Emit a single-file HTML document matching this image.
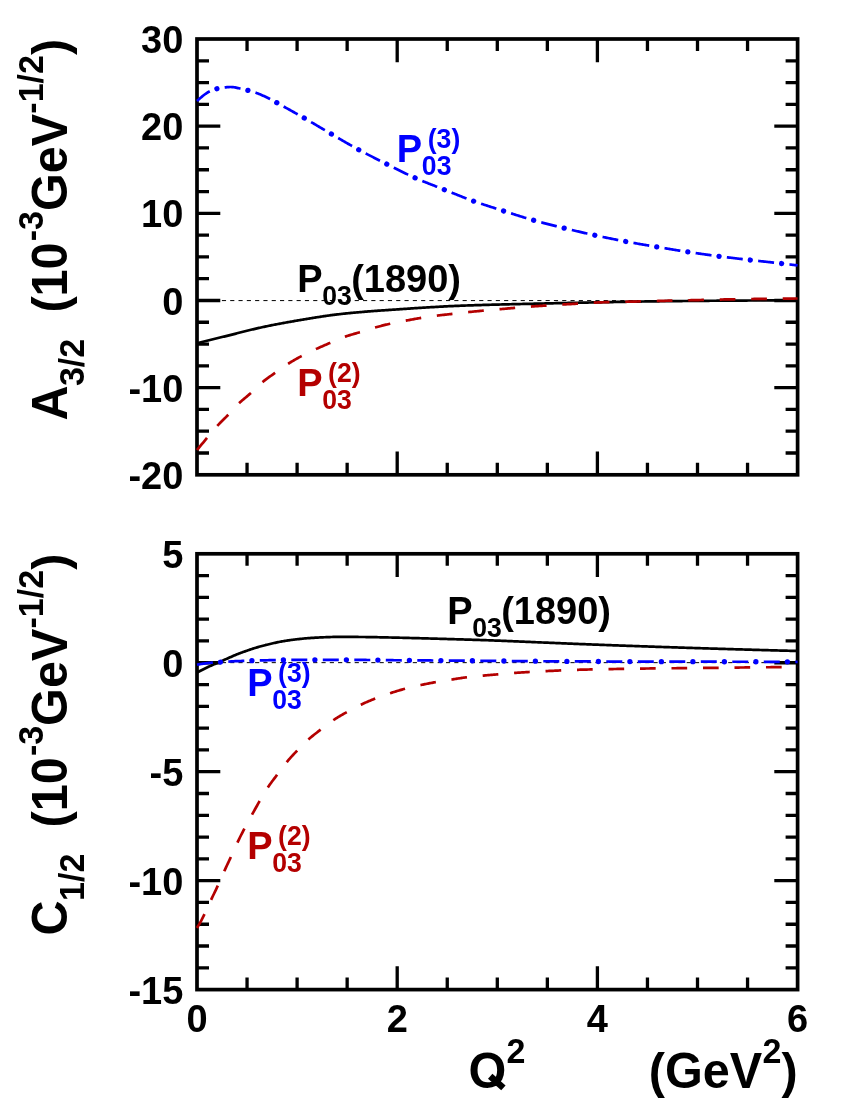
<!DOCTYPE html>
<html><head><meta charset="utf-8"><title>Helicity amplitudes</title>
<style>html,body{margin:0;padding:0;background:#fff;}svg{display:block;will-change:transform;}</style>
</head><body>
<svg width="850" height="1100" viewBox="0 0 850 1100" font-family="'Liberation Sans', sans-serif" font-weight="bold">
<rect width="850" height="1100" fill="#fff"/>
<g stroke="#000" stroke-width="3.3" fill="none">
<path d="M197.0 60.79h12.0 M797.6 60.79h-12.0"/>
<path d="M197.0 82.58h12.0 M797.6 82.58h-12.0"/>
<path d="M197.0 104.37h12.0 M797.6 104.37h-12.0"/>
<path d="M197.0 126.16h23.3 M797.6 126.16h-23.3"/>
<path d="M197.0 147.95h12.0 M797.6 147.95h-12.0"/>
<path d="M197.0 169.74h12.0 M797.6 169.74h-12.0"/>
<path d="M197.0 191.53h12.0 M797.6 191.53h-12.0"/>
<path d="M197.0 213.32h23.3 M797.6 213.32h-23.3"/>
<path d="M197.0 235.11h12.0 M797.6 235.11h-12.0"/>
<path d="M197.0 256.90h12.0 M797.6 256.90h-12.0"/>
<path d="M197.0 278.69h12.0 M797.6 278.69h-12.0"/>
<path d="M197.0 300.48h23.3 M797.6 300.48h-23.3"/>
<path d="M197.0 322.27h12.0 M797.6 322.27h-12.0"/>
<path d="M197.0 344.06h12.0 M797.6 344.06h-12.0"/>
<path d="M197.0 365.85h12.0 M797.6 365.85h-12.0"/>
<path d="M197.0 387.64h23.3 M797.6 387.64h-23.3"/>
<path d="M197.0 409.43h12.0 M797.6 409.43h-12.0"/>
<path d="M197.0 431.22h12.0 M797.6 431.22h-12.0"/>
<path d="M197.0 453.01h12.0 M797.6 453.01h-12.0"/>
<path d="M247.05 39.0v12.0 M247.05 474.8v-12.0"/>
<path d="M297.10 39.0v12.0 M297.10 474.8v-12.0"/>
<path d="M347.15 39.0v12.0 M347.15 474.8v-12.0"/>
<path d="M397.20 39.0v23.3 M397.20 474.8v-23.3"/>
<path d="M447.25 39.0v12.0 M447.25 474.8v-12.0"/>
<path d="M497.30 39.0v12.0 M497.30 474.8v-12.0"/>
<path d="M547.35 39.0v12.0 M547.35 474.8v-12.0"/>
<path d="M597.40 39.0v23.3 M597.40 474.8v-23.3"/>
<path d="M647.45 39.0v12.0 M647.45 474.8v-12.0"/>
<path d="M697.50 39.0v12.0 M697.50 474.8v-12.0"/>
<path d="M747.55 39.0v12.0 M747.55 474.8v-12.0"/>
<path d="M197.0 575.59h12.0 M797.6 575.59h-12.0"/>
<path d="M197.0 597.38h12.0 M797.6 597.38h-12.0"/>
<path d="M197.0 619.17h12.0 M797.6 619.17h-12.0"/>
<path d="M197.0 640.96h12.0 M797.6 640.96h-12.0"/>
<path d="M197.0 662.75h23.3 M797.6 662.75h-23.3"/>
<path d="M197.0 684.54h12.0 M797.6 684.54h-12.0"/>
<path d="M197.0 706.33h12.0 M797.6 706.33h-12.0"/>
<path d="M197.0 728.12h12.0 M797.6 728.12h-12.0"/>
<path d="M197.0 749.91h12.0 M797.6 749.91h-12.0"/>
<path d="M197.0 771.70h23.3 M797.6 771.70h-23.3"/>
<path d="M197.0 793.49h12.0 M797.6 793.49h-12.0"/>
<path d="M197.0 815.28h12.0 M797.6 815.28h-12.0"/>
<path d="M197.0 837.07h12.0 M797.6 837.07h-12.0"/>
<path d="M197.0 858.86h12.0 M797.6 858.86h-12.0"/>
<path d="M197.0 880.65h23.3 M797.6 880.65h-23.3"/>
<path d="M197.0 902.44h12.0 M797.6 902.44h-12.0"/>
<path d="M197.0 924.23h12.0 M797.6 924.23h-12.0"/>
<path d="M197.0 946.02h12.0 M797.6 946.02h-12.0"/>
<path d="M197.0 967.81h12.0 M797.6 967.81h-12.0"/>
<path d="M247.05 553.8v12.0 M247.05 989.6v-12.0"/>
<path d="M297.10 553.8v12.0 M297.10 989.6v-12.0"/>
<path d="M347.15 553.8v12.0 M347.15 989.6v-12.0"/>
<path d="M397.20 553.8v23.3 M397.20 989.6v-23.3"/>
<path d="M447.25 553.8v12.0 M447.25 989.6v-12.0"/>
<path d="M497.30 553.8v12.0 M497.30 989.6v-12.0"/>
<path d="M547.35 553.8v12.0 M547.35 989.6v-12.0"/>
<path d="M597.40 553.8v23.3 M597.40 989.6v-23.3"/>
<path d="M647.45 553.8v12.0 M647.45 989.6v-12.0"/>
<path d="M697.50 553.8v12.0 M697.50 989.6v-12.0"/>
<path d="M747.55 553.8v12.0 M747.55 989.6v-12.0"/>
</g>
<rect x="197.0" y="39.0" width="600.6" height="435.8" fill="none" stroke="#000" stroke-width="3.7"/>
<rect x="197.0" y="553.8" width="600.6" height="435.8" fill="none" stroke="#000" stroke-width="3.7"/>
<path d="M197.0 300.58H797.6" stroke="#000" stroke-width="1" stroke-dasharray="4.15 4.15" fill="none"/>
<path d="M197.0 662.65H797.6" stroke="#000" stroke-width="1" stroke-dasharray="4.15 4.15" fill="none"/>
<path d="M197.0 343.30 L198.0 343.05 L199.0 342.80 L200.0 342.55 L201.0 342.29 L202.0 342.04 L203.0 341.79 L204.0 341.54 L205.0 341.29 L206.0 341.04 L207.0 340.79 L208.0 340.54 L209.0 340.29 L210.0 340.04 L211.0 339.79 L212.0 339.54 L213.0 339.29 L214.0 339.04 L215.0 338.80 L216.0 338.55 L217.0 338.30 L218.0 338.05 L219.0 337.80 L220.0 337.55 L221.0 337.31 L222.0 337.06 L223.0 336.81 L224.0 336.57 L225.0 336.32 L226.0 336.07 L227.0 335.82 L228.0 335.57 L229.0 335.33 L230.0 335.08 L231.0 334.83 L232.0 334.58 L233.0 334.32 L234.0 334.07 L235.0 333.82 L236.0 333.57 L237.0 333.31 L238.0 333.06 L239.0 332.80 L240.0 332.55 L241.0 332.30 L242.0 332.04 L243.0 331.79 L244.0 331.54 L245.0 331.29 L246.0 331.04 L247.0 330.79 L248.0 330.54 L249.0 330.29 L250.0 330.05 L251.0 329.81 L252.0 329.56 L253.0 329.32 L254.0 329.08 L255.0 328.85 L256.0 328.61 L257.0 328.38 L258.0 328.15 L259.0 327.92 L260.0 327.70 L261.0 327.48 L262.0 327.26 L263.0 327.04 L264.0 326.83 L265.0 326.62 L266.0 326.41 L267.0 326.20 L268.0 326.00 L269.0 325.79 L270.0 325.59 L271.0 325.39 L272.0 325.19 L273.0 324.99 L274.0 324.79 L275.0 324.60 L276.0 324.41 L277.0 324.21 L278.0 324.02 L279.0 323.83 L280.0 323.64 L281.0 323.46 L282.0 323.27 L283.0 323.09 L284.0 322.90 L285.0 322.72 L286.0 322.54 L287.0 322.36 L288.0 322.18 L289.0 322.00 L290.0 321.82 L291.0 321.65 L292.0 321.47 L293.0 321.30 L294.0 321.12 L295.0 320.95 L296.0 320.78 L297.0 320.61 L298.0 320.44 L299.0 320.27 L300.0 320.10 L301.0 319.93 L302.0 319.77 L303.0 319.60 L304.0 319.43 L305.0 319.26 L306.0 319.10 L307.0 318.93 L308.0 318.76 L309.0 318.60 L310.0 318.43 L311.0 318.27 L312.0 318.10 L313.0 317.94 L314.0 317.77 L315.0 317.61 L316.0 317.45 L317.0 317.29 L318.0 317.13 L319.0 316.97 L320.0 316.81 L321.0 316.66 L322.0 316.51 L323.0 316.35 L324.0 316.20 L325.0 316.05 L326.0 315.91 L327.0 315.76 L328.0 315.62 L329.0 315.48 L330.0 315.34 L331.0 315.21 L332.0 315.07 L333.0 314.94 L334.0 314.82 L335.0 314.69 L336.0 314.57 L337.0 314.45 L338.0 314.33 L339.0 314.22 L340.0 314.10 L341.0 313.99 L342.0 313.88 L343.0 313.77 L344.0 313.67 L345.0 313.56 L346.0 313.46 L347.0 313.36 L348.0 313.26 L349.0 313.16 L350.0 313.06 L351.0 312.96 L352.0 312.87 L353.0 312.77 L354.0 312.68 L355.0 312.59 L356.0 312.50 L357.0 312.41 L358.0 312.32 L359.0 312.23 L360.0 312.14 L361.0 312.06 L362.0 311.97 L363.0 311.89 L364.0 311.80 L365.0 311.72 L366.0 311.64 L367.0 311.55 L368.0 311.47 L369.0 311.39 L370.0 311.31 L371.0 311.23 L372.0 311.16 L373.0 311.08 L374.0 311.00 L375.0 310.93 L376.0 310.85 L377.0 310.78 L378.0 310.71 L379.0 310.64 L380.0 310.57 L381.0 310.50 L382.0 310.43 L383.0 310.36 L384.0 310.30 L385.0 310.23 L386.0 310.16 L387.0 310.10 L388.0 310.03 L389.0 309.97 L390.0 309.90 L391.0 309.83 L392.0 309.76 L393.0 309.70 L394.0 309.63 L395.0 309.56 L396.0 309.49 L397.0 309.42 L398.0 309.35 L399.0 309.28 L400.0 309.21 L401.0 309.14 L402.0 309.08 L403.0 309.01 L404.0 308.94 L405.0 308.87 L406.0 308.80 L407.0 308.73 L408.0 308.66 L409.0 308.60 L410.0 308.53 L411.0 308.46 L412.0 308.40 L413.0 308.33 L414.0 308.26 L415.0 308.20 L416.0 308.13 L417.0 308.07 L418.0 308.01 L419.0 307.94 L420.0 307.88 L421.0 307.82 L422.0 307.76 L423.0 307.70 L424.0 307.63 L425.0 307.57 L426.0 307.51 L427.0 307.45 L428.0 307.39 L429.0 307.33 L430.0 307.27 L431.0 307.21 L432.0 307.15 L433.0 307.10 L434.0 307.04 L435.0 306.98 L436.0 306.92 L437.0 306.86 L438.0 306.80 L439.0 306.75 L440.0 306.69 L441.0 306.64 L442.0 306.58 L443.0 306.53 L444.0 306.47 L445.0 306.42 L446.0 306.37 L447.0 306.32 L448.0 306.27 L449.0 306.22 L450.0 306.17 L451.0 306.12 L452.0 306.07 L453.0 306.03 L454.0 305.98 L455.0 305.94 L456.0 305.90 L457.0 305.86 L458.0 305.82 L459.0 305.78 L460.0 305.74 L461.0 305.70 L462.0 305.66 L463.0 305.62 L464.0 305.59 L465.0 305.55 L466.0 305.51 L467.0 305.48 L468.0 305.44 L469.0 305.41 L470.0 305.38 L471.0 305.34 L472.0 305.31 L473.0 305.28 L474.0 305.24 L475.0 305.21 L476.0 305.18 L477.0 305.15 L478.0 305.12 L479.0 305.09 L480.0 305.06 L481.0 305.03 L482.0 305.00 L483.0 304.97 L484.0 304.94 L485.0 304.91 L486.0 304.88 L487.0 304.85 L488.0 304.82 L489.0 304.80 L490.0 304.77 L491.0 304.74 L492.0 304.71 L493.0 304.68 L494.0 304.66 L495.0 304.63 L496.0 304.61 L497.0 304.58 L498.0 304.55 L499.0 304.53 L500.0 304.50 L501.0 304.48 L502.0 304.45 L503.0 304.43 L504.0 304.40 L505.0 304.38 L506.0 304.35 L507.0 304.33 L508.0 304.31 L509.0 304.28 L510.0 304.26 L511.0 304.24 L512.0 304.21 L513.0 304.19 L514.0 304.17 L515.0 304.14 L516.0 304.12 L517.0 304.10 L518.0 304.07 L519.0 304.05 L520.0 304.03 L521.0 304.01 L522.0 303.98 L523.0 303.96 L524.0 303.94 L525.0 303.91 L526.0 303.89 L527.0 303.87 L528.0 303.85 L529.0 303.82 L530.0 303.80 L531.0 303.78 L532.0 303.75 L533.0 303.73 L534.0 303.71 L535.0 303.69 L536.0 303.66 L537.0 303.64 L538.0 303.62 L539.0 303.59 L540.0 303.57 L541.0 303.55 L542.0 303.53 L543.0 303.50 L544.0 303.48 L545.0 303.46 L546.0 303.44 L547.0 303.41 L548.0 303.39 L549.0 303.37 L550.0 303.35 L551.0 303.32 L552.0 303.30 L553.0 303.28 L554.0 303.26 L555.0 303.24 L556.0 303.21 L557.0 303.19 L558.0 303.17 L559.0 303.15 L560.0 303.13 L561.0 303.11 L562.0 303.08 L563.0 303.06 L564.0 303.04 L565.0 303.02 L566.0 303.00 L567.0 302.98 L568.0 302.95 L569.0 302.93 L570.0 302.91 L571.0 302.89 L572.0 302.87 L573.0 302.85 L574.0 302.83 L575.0 302.81 L576.0 302.79 L577.0 302.76 L578.0 302.74 L579.0 302.72 L580.0 302.70 L581.0 302.68 L582.0 302.66 L583.0 302.64 L584.0 302.62 L585.0 302.60 L586.0 302.58 L587.0 302.56 L588.0 302.54 L589.0 302.52 L590.0 302.50 L591.0 302.48 L592.0 302.46 L593.0 302.44 L594.0 302.42 L595.0 302.40 L596.0 302.38 L597.0 302.36 L598.0 302.34 L599.0 302.32 L600.0 302.30 L601.0 302.28 L602.0 302.26 L603.0 302.24 L604.0 302.22 L605.0 302.20 L606.0 302.18 L607.0 302.16 L608.0 302.14 L609.0 302.12 L610.0 302.10 L611.0 302.08 L612.0 302.06 L613.0 302.04 L614.0 302.02 L615.0 302.00 L616.0 301.98 L617.0 301.96 L618.0 301.94 L619.0 301.92 L620.0 301.90 L621.0 301.88 L622.0 301.86 L623.0 301.84 L624.0 301.82 L625.0 301.80 L626.0 301.79 L627.0 301.77 L628.0 301.75 L629.0 301.73 L630.0 301.71 L631.0 301.70 L632.0 301.68 L633.0 301.66 L634.0 301.64 L635.0 301.63 L636.0 301.61 L637.0 301.59 L638.0 301.58 L639.0 301.56 L640.0 301.55 L641.0 301.53 L642.0 301.51 L643.0 301.50 L644.0 301.48 L645.0 301.47 L646.0 301.46 L647.0 301.44 L648.0 301.43 L649.0 301.41 L650.0 301.40 L651.0 301.39 L652.0 301.37 L653.0 301.36 L654.0 301.35 L655.0 301.34 L656.0 301.32 L657.0 301.31 L658.0 301.30 L659.0 301.29 L660.0 301.27 L661.0 301.26 L662.0 301.25 L663.0 301.24 L664.0 301.23 L665.0 301.21 L666.0 301.20 L667.0 301.19 L668.0 301.18 L669.0 301.17 L670.0 301.16 L671.0 301.15 L672.0 301.13 L673.0 301.12 L674.0 301.11 L675.0 301.10 L676.0 301.09 L677.0 301.08 L678.0 301.07 L679.0 301.06 L680.0 301.05 L681.0 301.04 L682.0 301.03 L683.0 301.02 L684.0 301.01 L685.0 301.00 L686.0 300.99 L687.0 300.98 L688.0 300.97 L689.0 300.96 L690.0 300.95 L691.0 300.94 L692.0 300.93 L693.0 300.92 L694.0 300.91 L695.0 300.90 L696.0 300.89 L697.0 300.88 L698.0 300.87 L699.0 300.86 L700.0 300.86 L701.0 300.85 L702.0 300.84 L703.0 300.83 L704.0 300.82 L705.0 300.81 L706.0 300.81 L707.0 300.80 L708.0 300.79 L709.0 300.78 L710.0 300.77 L711.0 300.77 L712.0 300.76 L713.0 300.75 L714.0 300.74 L715.0 300.74 L716.0 300.73 L717.0 300.72 L718.0 300.71 L719.0 300.71 L720.0 300.70 L721.0 300.69 L722.0 300.69 L723.0 300.68 L724.0 300.67 L725.0 300.67 L726.0 300.66 L727.0 300.65 L728.0 300.65 L729.0 300.64 L730.0 300.63 L731.0 300.63 L732.0 300.62 L733.0 300.61 L734.0 300.61 L735.0 300.60 L736.0 300.59 L737.0 300.59 L738.0 300.58 L739.0 300.57 L740.0 300.57 L741.0 300.56 L742.0 300.56 L743.0 300.55 L744.0 300.54 L745.0 300.54 L746.0 300.53 L747.0 300.53 L748.0 300.52 L749.0 300.51 L750.0 300.51 L751.0 300.50 L752.0 300.50 L753.0 300.49 L754.0 300.49 L755.0 300.48 L756.0 300.47 L757.0 300.47 L758.0 300.46 L759.0 300.46 L760.0 300.45 L761.0 300.45 L762.0 300.44 L763.0 300.44 L764.0 300.43 L765.0 300.43 L766.0 300.42 L767.0 300.42 L768.0 300.41 L769.0 300.41 L770.0 300.40 L771.0 300.40 L772.0 300.39 L773.0 300.39 L774.0 300.38 L775.0 300.38 L776.0 300.38 L777.0 300.37 L778.0 300.37 L779.0 300.36 L780.0 300.36 L781.0 300.35 L782.0 300.35 L783.0 300.35 L784.0 300.34 L785.0 300.34 L786.0 300.34 L787.0 300.33 L788.0 300.33 L789.0 300.33 L790.0 300.32 L791.0 300.32 L792.0 300.32 L793.0 300.31 L794.0 300.31 L795.0 300.31 L796.0 300.31 L797.0 300.30 L797.6 300.30" fill="none" stroke="#000" stroke-width="2.7"/>
<path d="M197.0 450.00 L198.0 448.79 L199.0 447.59 L200.0 446.38 L201.0 445.17 L202.0 443.97 L203.0 442.77 L204.0 441.56 L205.0 440.36 L206.0 439.15 L207.0 437.94 L208.0 436.73 L209.0 435.52 L210.0 434.31 L211.0 433.10 L212.0 431.90 L213.0 430.72 L214.0 429.55 L215.0 428.40 L216.0 427.28 L217.0 426.18 L218.0 425.11 L219.0 424.07 L220.0 423.04 L221.0 422.04 L222.0 421.05 L223.0 420.06 L224.0 419.07 L225.0 418.08 L226.0 417.08 L227.0 416.06 L228.0 415.01 L229.0 413.95 L230.0 412.87 L231.0 411.77 L232.0 410.66 L233.0 409.55 L234.0 408.45 L235.0 407.36 L236.0 406.29 L237.0 405.25 L238.0 404.25 L239.0 403.28 L240.0 402.34 L241.0 401.44 L242.0 400.56 L243.0 399.70 L244.0 398.86 L245.0 398.03 L246.0 397.19 L247.0 396.36 L248.0 395.51 L249.0 394.64 L250.0 393.75 L251.0 392.85 L252.0 391.92 L253.0 390.97 L254.0 390.01 L255.0 389.03 L256.0 388.06 L257.0 387.08 L258.0 386.12 L259.0 385.18 L260.0 384.26 L261.0 383.37 L262.0 382.50 L263.0 381.67 L264.0 380.86 L265.0 380.08 L266.0 379.32 L267.0 378.58 L268.0 377.86 L269.0 377.14 L270.0 376.44 L271.0 375.73 L272.0 375.03 L273.0 374.33 L274.0 373.63 L275.0 372.92 L276.0 372.21 L277.0 371.50 L278.0 370.78 L279.0 370.06 L280.0 369.35 L281.0 368.64 L282.0 367.93 L283.0 367.23 L284.0 366.54 L285.0 365.86 L286.0 365.19 L287.0 364.53 L288.0 363.88 L289.0 363.25 L290.0 362.63 L291.0 362.01 L292.0 361.41 L293.0 360.81 L294.0 360.22 L295.0 359.64 L296.0 359.07 L297.0 358.51 L298.0 357.95 L299.0 357.40 L300.0 356.86 L301.0 356.33 L302.0 355.81 L303.0 355.29 L304.0 354.78 L305.0 354.28 L306.0 353.79 L307.0 353.30 L308.0 352.81 L309.0 352.33 L310.0 351.86 L311.0 351.39 L312.0 350.92 L313.0 350.46 L314.0 350.00 L315.0 349.54 L316.0 349.08 L317.0 348.63 L318.0 348.17 L319.0 347.72 L320.0 347.28 L321.0 346.83 L322.0 346.39 L323.0 345.96 L324.0 345.52 L325.0 345.08 L326.0 344.65 L327.0 344.22 L328.0 343.79 L329.0 343.35 L330.0 342.92 L331.0 342.48 L332.0 342.05 L333.0 341.61 L334.0 341.18 L335.0 340.74 L336.0 340.31 L337.0 339.88 L338.0 339.45 L339.0 339.03 L340.0 338.62 L341.0 338.22 L342.0 337.83 L343.0 337.45 L344.0 337.09 L345.0 336.73 L346.0 336.39 L347.0 336.05 L348.0 335.73 L349.0 335.41 L350.0 335.10 L351.0 334.80 L352.0 334.50 L353.0 334.20 L354.0 333.91 L355.0 333.62 L356.0 333.33 L357.0 333.03 L358.0 332.74 L359.0 332.44 L360.0 332.14 L361.0 331.83 L362.0 331.53 L363.0 331.22 L364.0 330.90 L365.0 330.59 L366.0 330.27 L367.0 329.96 L368.0 329.65 L369.0 329.34 L370.0 329.03 L371.0 328.73 L372.0 328.43 L373.0 328.13 L374.0 327.84 L375.0 327.56 L376.0 327.28 L377.0 327.00 L378.0 326.73 L379.0 326.46 L380.0 326.20 L381.0 325.93 L382.0 325.67 L383.0 325.42 L384.0 325.17 L385.0 324.92 L386.0 324.68 L387.0 324.44 L388.0 324.20 L389.0 323.97 L390.0 323.75 L391.0 323.53 L392.0 323.32 L393.0 323.11 L394.0 322.90 L395.0 322.70 L396.0 322.50 L397.0 322.31 L398.0 322.12 L399.0 321.93 L400.0 321.74 L401.0 321.55 L402.0 321.37 L403.0 321.18 L404.0 321.00 L405.0 320.81 L406.0 320.62 L407.0 320.43 L408.0 320.25 L409.0 320.06 L410.0 319.87 L411.0 319.68 L412.0 319.50 L413.0 319.31 L414.0 319.13 L415.0 318.94 L416.0 318.77 L417.0 318.59 L418.0 318.41 L419.0 318.24 L420.0 318.08 L421.0 317.91 L422.0 317.75 L423.0 317.59 L424.0 317.43 L425.0 317.28 L426.0 317.12 L427.0 316.97 L428.0 316.82 L429.0 316.68 L430.0 316.53 L431.0 316.39 L432.0 316.25 L433.0 316.12 L434.0 315.98 L435.0 315.85 L436.0 315.72 L437.0 315.60 L438.0 315.48 L439.0 315.36 L440.0 315.24 L441.0 315.13 L442.0 315.02 L443.0 314.91 L444.0 314.81 L445.0 314.70 L446.0 314.60 L447.0 314.49 L448.0 314.39 L449.0 314.28 L450.0 314.18 L451.0 314.07 L452.0 313.96 L453.0 313.85 L454.0 313.74 L455.0 313.62 L456.0 313.51 L457.0 313.39 L458.0 313.27 L459.0 313.15 L460.0 313.03 L461.0 312.92 L462.0 312.80 L463.0 312.68 L464.0 312.57 L465.0 312.46 L466.0 312.35 L467.0 312.24 L468.0 312.13 L469.0 312.02 L470.0 311.92 L471.0 311.82 L472.0 311.72 L473.0 311.62 L474.0 311.52 L475.0 311.43 L476.0 311.33 L477.0 311.24 L478.0 311.15 L479.0 311.05 L480.0 310.96 L481.0 310.87 L482.0 310.78 L483.0 310.68 L484.0 310.59 L485.0 310.50 L486.0 310.41 L487.0 310.32 L488.0 310.23 L489.0 310.13 L490.0 310.04 L491.0 309.95 L492.0 309.86 L493.0 309.78 L494.0 309.69 L495.0 309.60 L496.0 309.51 L497.0 309.42 L498.0 309.33 L499.0 309.24 L500.0 309.16 L501.0 309.07 L502.0 308.98 L503.0 308.90 L504.0 308.81 L505.0 308.73 L506.0 308.64 L507.0 308.55 L508.0 308.47 L509.0 308.38 L510.0 308.30 L511.0 308.21 L512.0 308.13 L513.0 308.04 L514.0 307.96 L515.0 307.87 L516.0 307.79 L517.0 307.70 L518.0 307.61 L519.0 307.52 L520.0 307.44 L521.0 307.35 L522.0 307.26 L523.0 307.17 L524.0 307.09 L525.0 307.00 L526.0 306.92 L527.0 306.84 L528.0 306.76 L529.0 306.68 L530.0 306.60 L531.0 306.53 L532.0 306.46 L533.0 306.39 L534.0 306.32 L535.0 306.26 L536.0 306.19 L537.0 306.13 L538.0 306.07 L539.0 306.01 L540.0 305.95 L541.0 305.89 L542.0 305.83 L543.0 305.77 L544.0 305.71 L545.0 305.65 L546.0 305.58 L547.0 305.52 L548.0 305.46 L549.0 305.40 L550.0 305.33 L551.0 305.27 L552.0 305.20 L553.0 305.14 L554.0 305.07 L555.0 305.00 L556.0 304.94 L557.0 304.87 L558.0 304.81 L559.0 304.75 L560.0 304.68 L561.0 304.62 L562.0 304.56 L563.0 304.50 L564.0 304.44 L565.0 304.38 L566.0 304.32 L567.0 304.26 L568.0 304.21 L569.0 304.15 L570.0 304.10 L571.0 304.04 L572.0 303.99 L573.0 303.93 L574.0 303.88 L575.0 303.82 L576.0 303.77 L577.0 303.71 L578.0 303.65 L579.0 303.60 L580.0 303.54 L581.0 303.48 L582.0 303.42 L583.0 303.35 L584.0 303.29 L585.0 303.23 L586.0 303.16 L587.0 303.10 L588.0 303.03 L589.0 302.97 L590.0 302.90 L591.0 302.84 L592.0 302.78 L593.0 302.72 L594.0 302.66 L595.0 302.60 L596.0 302.55 L597.0 302.50 L598.0 302.45 L599.0 302.41 L600.0 302.37 L601.0 302.33 L602.0 302.29 L603.0 302.26 L604.0 302.23 L605.0 302.20 L606.0 302.17 L607.0 302.14 L608.0 302.12 L609.0 302.09 L610.0 302.07 L611.0 302.05 L612.0 302.02 L613.0 302.00 L614.0 301.98 L615.0 301.96 L616.0 301.94 L617.0 301.92 L618.0 301.90 L619.0 301.88 L620.0 301.86 L621.0 301.85 L622.0 301.83 L623.0 301.81 L624.0 301.79 L625.0 301.77 L626.0 301.75 L627.0 301.73 L628.0 301.71 L629.0 301.69 L630.0 301.67 L631.0 301.65 L632.0 301.63 L633.0 301.60 L634.0 301.58 L635.0 301.56 L636.0 301.53 L637.0 301.51 L638.0 301.48 L639.0 301.46 L640.0 301.43 L641.0 301.41 L642.0 301.38 L643.0 301.36 L644.0 301.33 L645.0 301.30 L646.0 301.28 L647.0 301.25 L648.0 301.23 L649.0 301.20 L650.0 301.17 L651.0 301.15 L652.0 301.12 L653.0 301.09 L654.0 301.07 L655.0 301.04 L656.0 301.02 L657.0 300.99 L658.0 300.97 L659.0 300.94 L660.0 300.92 L661.0 300.89 L662.0 300.87 L663.0 300.84 L664.0 300.82 L665.0 300.79 L666.0 300.77 L667.0 300.75 L668.0 300.72 L669.0 300.70 L670.0 300.68 L671.0 300.65 L672.0 300.63 L673.0 300.61 L674.0 300.59 L675.0 300.56 L676.0 300.54 L677.0 300.52 L678.0 300.50 L679.0 300.47 L680.0 300.45 L681.0 300.43 L682.0 300.41 L683.0 300.39 L684.0 300.36 L685.0 300.34 L686.0 300.32 L687.0 300.30 L688.0 300.28 L689.0 300.25 L690.0 300.23 L691.0 300.21 L692.0 300.19 L693.0 300.17 L694.0 300.14 L695.0 300.12 L696.0 300.10 L697.0 300.08 L698.0 300.05 L699.0 300.03 L700.0 300.01 L701.0 299.99 L702.0 299.96 L703.0 299.94 L704.0 299.92 L705.0 299.89 L706.0 299.87 L707.0 299.85 L708.0 299.82 L709.0 299.80 L710.0 299.78 L711.0 299.76 L712.0 299.73 L713.0 299.71 L714.0 299.69 L715.0 299.66 L716.0 299.64 L717.0 299.62 L718.0 299.60 L719.0 299.58 L720.0 299.55 L721.0 299.53 L722.0 299.51 L723.0 299.49 L724.0 299.47 L725.0 299.45 L726.0 299.43 L727.0 299.41 L728.0 299.40 L729.0 299.38 L730.0 299.36 L731.0 299.34 L732.0 299.32 L733.0 299.30 L734.0 299.29 L735.0 299.27 L736.0 299.25 L737.0 299.23 L738.0 299.22 L739.0 299.20 L740.0 299.18 L741.0 299.17 L742.0 299.15 L743.0 299.13 L744.0 299.12 L745.0 299.10 L746.0 299.09 L747.0 299.07 L748.0 299.06 L749.0 299.04 L750.0 299.03 L751.0 299.01 L752.0 299.00 L753.0 298.98 L754.0 298.97 L755.0 298.95 L756.0 298.94 L757.0 298.93 L758.0 298.91 L759.0 298.90 L760.0 298.89 L761.0 298.88 L762.0 298.86 L763.0 298.85 L764.0 298.84 L765.0 298.83 L766.0 298.81 L767.0 298.80 L768.0 298.79 L769.0 298.78 L770.0 298.77 L771.0 298.76 L772.0 298.74 L773.0 298.73 L774.0 298.72 L775.0 298.71 L776.0 298.70 L777.0 298.69 L778.0 298.68 L779.0 298.67 L780.0 298.66 L781.0 298.65 L782.0 298.64 L783.0 298.63 L784.0 298.62 L785.0 298.61 L786.0 298.60 L787.0 298.59 L788.0 298.58 L789.0 298.57 L790.0 298.56 L791.0 298.55 L792.0 298.54 L793.0 298.54 L794.0 298.53 L795.0 298.52 L796.0 298.51 L797.0 298.51 L797.6 298.50" fill="none" stroke="#b40000" stroke-width="2.7" stroke-dasharray="15.70 15.80"/>
<path d="M197.0 100.90 L198.0 100.02 L199.0 99.14 L200.0 98.28 L201.0 97.45 L202.0 96.63 L203.0 95.82 L204.0 95.04 L205.0 94.29 L206.0 93.57 L207.0 92.89 L208.0 92.27 L209.0 91.69 L210.0 91.16 L211.0 90.69 L212.0 90.26 L213.0 89.88 L214.0 89.53 L215.0 89.22 L216.0 88.94 L217.0 88.69 L218.0 88.47 L219.0 88.27 L220.0 88.09 L221.0 87.93 L222.0 87.79 L223.0 87.65 L224.0 87.52 L225.0 87.40 L226.0 87.29 L227.0 87.19 L228.0 87.10 L229.0 87.03 L230.0 87.00 L231.0 87.00 L232.0 87.05 L233.0 87.13 L234.0 87.26 L235.0 87.43 L236.0 87.63 L237.0 87.84 L238.0 88.06 L239.0 88.29 L240.0 88.52 L241.0 88.75 L242.0 88.97 L243.0 89.20 L244.0 89.43 L245.0 89.66 L246.0 89.91 L247.0 90.16 L248.0 90.41 L249.0 90.68 L250.0 90.95 L251.0 91.23 L252.0 91.52 L253.0 91.82 L254.0 92.14 L255.0 92.47 L256.0 92.81 L257.0 93.17 L258.0 93.55 L259.0 93.94 L260.0 94.35 L261.0 94.77 L262.0 95.20 L263.0 95.64 L264.0 96.09 L265.0 96.55 L266.0 97.02 L267.0 97.50 L268.0 97.98 L269.0 98.48 L270.0 98.98 L271.0 99.51 L272.0 100.04 L273.0 100.58 L274.0 101.14 L275.0 101.69 L276.0 102.25 L277.0 102.81 L278.0 103.37 L279.0 103.93 L280.0 104.48 L281.0 105.04 L282.0 105.59 L283.0 106.14 L284.0 106.70 L285.0 107.25 L286.0 107.81 L287.0 108.36 L288.0 108.92 L289.0 109.47 L290.0 110.03 L291.0 110.59 L292.0 111.15 L293.0 111.71 L294.0 112.27 L295.0 112.83 L296.0 113.39 L297.0 113.95 L298.0 114.52 L299.0 115.08 L300.0 115.65 L301.0 116.22 L302.0 116.79 L303.0 117.36 L304.0 117.93 L305.0 118.51 L306.0 119.09 L307.0 119.67 L308.0 120.25 L309.0 120.83 L310.0 121.42 L311.0 122.01 L312.0 122.60 L313.0 123.19 L314.0 123.78 L315.0 124.37 L316.0 124.96 L317.0 125.56 L318.0 126.15 L319.0 126.74 L320.0 127.34 L321.0 127.93 L322.0 128.52 L323.0 129.12 L324.0 129.71 L325.0 130.30 L326.0 130.89 L327.0 131.48 L328.0 132.06 L329.0 132.65 L330.0 133.23 L331.0 133.82 L332.0 134.40 L333.0 134.98 L334.0 135.57 L335.0 136.15 L336.0 136.74 L337.0 137.32 L338.0 137.91 L339.0 138.49 L340.0 139.07 L341.0 139.66 L342.0 140.24 L343.0 140.83 L344.0 141.41 L345.0 141.99 L346.0 142.57 L347.0 143.14 L348.0 143.72 L349.0 144.29 L350.0 144.86 L351.0 145.43 L352.0 145.99 L353.0 146.56 L354.0 147.12 L355.0 147.67 L356.0 148.23 L357.0 148.78 L358.0 149.32 L359.0 149.86 L360.0 150.40 L361.0 150.94 L362.0 151.47 L363.0 152.00 L364.0 152.53 L365.0 153.05 L366.0 153.57 L367.0 154.09 L368.0 154.61 L369.0 155.13 L370.0 155.64 L371.0 156.15 L372.0 156.66 L373.0 157.17 L374.0 157.68 L375.0 158.19 L376.0 158.69 L377.0 159.19 L378.0 159.70 L379.0 160.20 L380.0 160.70 L381.0 161.20 L382.0 161.70 L383.0 162.20 L384.0 162.70 L385.0 163.20 L386.0 163.70 L387.0 164.20 L388.0 164.70 L389.0 165.21 L390.0 165.71 L391.0 166.21 L392.0 166.72 L393.0 167.22 L394.0 167.72 L395.0 168.23 L396.0 168.73 L397.0 169.23 L398.0 169.73 L399.0 170.23 L400.0 170.73 L401.0 171.22 L402.0 171.72 L403.0 172.21 L404.0 172.70 L405.0 173.18 L406.0 173.66 L407.0 174.14 L408.0 174.62 L409.0 175.09 L410.0 175.56 L411.0 176.02 L412.0 176.48 L413.0 176.93 L414.0 177.38 L415.0 177.82 L416.0 178.26 L417.0 178.70 L418.0 179.13 L419.0 179.55 L420.0 179.97 L421.0 180.39 L422.0 180.81 L423.0 181.22 L424.0 181.63 L425.0 182.04 L426.0 182.44 L427.0 182.84 L428.0 183.24 L429.0 183.64 L430.0 184.04 L431.0 184.43 L432.0 184.82 L433.0 185.22 L434.0 185.61 L435.0 186.00 L436.0 186.39 L437.0 186.78 L438.0 187.18 L439.0 187.57 L440.0 187.96 L441.0 188.35 L442.0 188.75 L443.0 189.15 L444.0 189.54 L445.0 189.94 L446.0 190.34 L447.0 190.74 L448.0 191.14 L449.0 191.55 L450.0 191.95 L451.0 192.35 L452.0 192.76 L453.0 193.16 L454.0 193.56 L455.0 193.97 L456.0 194.37 L457.0 194.77 L458.0 195.17 L459.0 195.57 L460.0 195.97 L461.0 196.36 L462.0 196.76 L463.0 197.15 L464.0 197.54 L465.0 197.93 L466.0 198.31 L467.0 198.69 L468.0 199.07 L469.0 199.45 L470.0 199.82 L471.0 200.19 L472.0 200.55 L473.0 200.91 L474.0 201.27 L475.0 201.62 L476.0 201.97 L477.0 202.32 L478.0 202.66 L479.0 203.01 L480.0 203.34 L481.0 203.68 L482.0 204.01 L483.0 204.34 L484.0 204.67 L485.0 205.00 L486.0 205.33 L487.0 205.65 L488.0 205.97 L489.0 206.29 L490.0 206.61 L491.0 206.93 L492.0 207.25 L493.0 207.57 L494.0 207.88 L495.0 208.20 L496.0 208.52 L497.0 208.83 L498.0 209.15 L499.0 209.47 L500.0 209.78 L501.0 210.10 L502.0 210.42 L503.0 210.74 L504.0 211.06 L505.0 211.38 L506.0 211.70 L507.0 212.02 L508.0 212.34 L509.0 212.67 L510.0 212.99 L511.0 213.31 L512.0 213.63 L513.0 213.96 L514.0 214.28 L515.0 214.60 L516.0 214.92 L517.0 215.24 L518.0 215.56 L519.0 215.88 L520.0 216.19 L521.0 216.51 L522.0 216.82 L523.0 217.13 L524.0 217.44 L525.0 217.75 L526.0 218.05 L527.0 218.36 L528.0 218.66 L529.0 218.95 L530.0 219.25 L531.0 219.54 L532.0 219.82 L533.0 220.11 L534.0 220.39 L535.0 220.67 L536.0 220.95 L537.0 221.22 L538.0 221.49 L539.0 221.76 L540.0 222.03 L541.0 222.29 L542.0 222.56 L543.0 222.82 L544.0 223.08 L545.0 223.33 L546.0 223.59 L547.0 223.85 L548.0 224.10 L549.0 224.35 L550.0 224.60 L551.0 224.85 L552.0 225.10 L553.0 225.35 L554.0 225.60 L555.0 225.85 L556.0 226.09 L557.0 226.34 L558.0 226.58 L559.0 226.83 L560.0 227.07 L561.0 227.32 L562.0 227.56 L563.0 227.81 L564.0 228.05 L565.0 228.30 L566.0 228.54 L567.0 228.78 L568.0 229.03 L569.0 229.27 L570.0 229.51 L571.0 229.75 L572.0 230.00 L573.0 230.24 L574.0 230.48 L575.0 230.72 L576.0 230.96 L577.0 231.20 L578.0 231.43 L579.0 231.67 L580.0 231.91 L581.0 232.14 L582.0 232.38 L583.0 232.61 L584.0 232.84 L585.0 233.07 L586.0 233.30 L587.0 233.53 L588.0 233.76 L589.0 233.98 L590.0 234.21 L591.0 234.43 L592.0 234.65 L593.0 234.87 L594.0 235.09 L595.0 235.31 L596.0 235.52 L597.0 235.74 L598.0 235.95 L599.0 236.16 L600.0 236.37 L601.0 236.58 L602.0 236.79 L603.0 237.00 L604.0 237.21 L605.0 237.42 L606.0 237.62 L607.0 237.83 L608.0 238.03 L609.0 238.23 L610.0 238.43 L611.0 238.63 L612.0 238.83 L613.0 239.03 L614.0 239.23 L615.0 239.43 L616.0 239.62 L617.0 239.82 L618.0 240.01 L619.0 240.21 L620.0 240.40 L621.0 240.59 L622.0 240.78 L623.0 240.97 L624.0 241.16 L625.0 241.35 L626.0 241.54 L627.0 241.72 L628.0 241.91 L629.0 242.09 L630.0 242.27 L631.0 242.46 L632.0 242.64 L633.0 242.82 L634.0 243.00 L635.0 243.18 L636.0 243.35 L637.0 243.53 L638.0 243.71 L639.0 243.88 L640.0 244.06 L641.0 244.23 L642.0 244.40 L643.0 244.58 L644.0 244.75 L645.0 244.92 L646.0 245.09 L647.0 245.26 L648.0 245.43 L649.0 245.60 L650.0 245.77 L651.0 245.94 L652.0 246.11 L653.0 246.28 L654.0 246.45 L655.0 246.61 L656.0 246.78 L657.0 246.95 L658.0 247.12 L659.0 247.28 L660.0 247.45 L661.0 247.62 L662.0 247.78 L663.0 247.95 L664.0 248.12 L665.0 248.28 L666.0 248.45 L667.0 248.61 L668.0 248.77 L669.0 248.94 L670.0 249.10 L671.0 249.26 L672.0 249.43 L673.0 249.59 L674.0 249.75 L675.0 249.91 L676.0 250.07 L677.0 250.23 L678.0 250.39 L679.0 250.54 L680.0 250.70 L681.0 250.86 L682.0 251.01 L683.0 251.17 L684.0 251.32 L685.0 251.47 L686.0 251.63 L687.0 251.78 L688.0 251.93 L689.0 252.08 L690.0 252.23 L691.0 252.38 L692.0 252.53 L693.0 252.67 L694.0 252.82 L695.0 252.97 L696.0 253.12 L697.0 253.26 L698.0 253.41 L699.0 253.55 L700.0 253.70 L701.0 253.84 L702.0 253.98 L703.0 254.12 L704.0 254.27 L705.0 254.41 L706.0 254.55 L707.0 254.69 L708.0 254.83 L709.0 254.96 L710.0 255.10 L711.0 255.24 L712.0 255.37 L713.0 255.51 L714.0 255.64 L715.0 255.77 L716.0 255.91 L717.0 256.04 L718.0 256.17 L719.0 256.30 L720.0 256.43 L721.0 256.55 L722.0 256.68 L723.0 256.81 L724.0 256.93 L725.0 257.06 L726.0 257.18 L727.0 257.30 L728.0 257.42 L729.0 257.54 L730.0 257.66 L731.0 257.78 L732.0 257.90 L733.0 258.02 L734.0 258.14 L735.0 258.26 L736.0 258.37 L737.0 258.49 L738.0 258.61 L739.0 258.72 L740.0 258.84 L741.0 258.95 L742.0 259.07 L743.0 259.18 L744.0 259.30 L745.0 259.41 L746.0 259.53 L747.0 259.64 L748.0 259.76 L749.0 259.87 L750.0 259.99 L751.0 260.10 L752.0 260.22 L753.0 260.33 L754.0 260.44 L755.0 260.56 L756.0 260.67 L757.0 260.78 L758.0 260.89 L759.0 261.00 L760.0 261.11 L761.0 261.22 L762.0 261.33 L763.0 261.44 L764.0 261.55 L765.0 261.66 L766.0 261.77 L767.0 261.88 L768.0 261.99 L769.0 262.10 L770.0 262.21 L771.0 262.32 L772.0 262.43 L773.0 262.54 L774.0 262.65 L775.0 262.77 L776.0 262.88 L777.0 262.99 L778.0 263.10 L779.0 263.22 L780.0 263.33 L781.0 263.44 L782.0 263.56 L783.0 263.67 L784.0 263.79 L785.0 263.91 L786.0 264.02 L787.0 264.14 L788.0 264.26 L789.0 264.38 L790.0 264.49 L791.0 264.61 L792.0 264.73 L793.0 264.85 L794.0 264.97 L795.0 265.08 L796.0 265.19 L797.0 265.29 L797.6 265.40" fill="none" stroke="#0000ff" stroke-width="2.7" stroke-dasharray="16.00 15.50"/>
<path d="M197.0 100.90 L198.0 100.02 L199.0 99.14 L200.0 98.28 L201.0 97.45 L202.0 96.63 L203.0 95.82 L204.0 95.04 L205.0 94.29 L206.0 93.57 L207.0 92.89 L208.0 92.27 L209.0 91.69 L210.0 91.16 L211.0 90.69 L212.0 90.26 L213.0 89.88 L214.0 89.53 L215.0 89.22 L216.0 88.94 L217.0 88.69 L218.0 88.47 L219.0 88.27 L220.0 88.09 L221.0 87.93 L222.0 87.79 L223.0 87.65 L224.0 87.52 L225.0 87.40 L226.0 87.29 L227.0 87.19 L228.0 87.10 L229.0 87.03 L230.0 87.00 L231.0 87.00 L232.0 87.05 L233.0 87.13 L234.0 87.26 L235.0 87.43 L236.0 87.63 L237.0 87.84 L238.0 88.06 L239.0 88.29 L240.0 88.52 L241.0 88.75 L242.0 88.97 L243.0 89.20 L244.0 89.43 L245.0 89.66 L246.0 89.91 L247.0 90.16 L248.0 90.41 L249.0 90.68 L250.0 90.95 L251.0 91.23 L252.0 91.52 L253.0 91.82 L254.0 92.14 L255.0 92.47 L256.0 92.81 L257.0 93.17 L258.0 93.55 L259.0 93.94 L260.0 94.35 L261.0 94.77 L262.0 95.20 L263.0 95.64 L264.0 96.09 L265.0 96.55 L266.0 97.02 L267.0 97.50 L268.0 97.98 L269.0 98.48 L270.0 98.98 L271.0 99.51 L272.0 100.04 L273.0 100.58 L274.0 101.14 L275.0 101.69 L276.0 102.25 L277.0 102.81 L278.0 103.37 L279.0 103.93 L280.0 104.48 L281.0 105.04 L282.0 105.59 L283.0 106.14 L284.0 106.70 L285.0 107.25 L286.0 107.81 L287.0 108.36 L288.0 108.92 L289.0 109.47 L290.0 110.03 L291.0 110.59 L292.0 111.15 L293.0 111.71 L294.0 112.27 L295.0 112.83 L296.0 113.39 L297.0 113.95 L298.0 114.52 L299.0 115.08 L300.0 115.65 L301.0 116.22 L302.0 116.79 L303.0 117.36 L304.0 117.93 L305.0 118.51 L306.0 119.09 L307.0 119.67 L308.0 120.25 L309.0 120.83 L310.0 121.42 L311.0 122.01 L312.0 122.60 L313.0 123.19 L314.0 123.78 L315.0 124.37 L316.0 124.96 L317.0 125.56 L318.0 126.15 L319.0 126.74 L320.0 127.34 L321.0 127.93 L322.0 128.52 L323.0 129.12 L324.0 129.71 L325.0 130.30 L326.0 130.89 L327.0 131.48 L328.0 132.06 L329.0 132.65 L330.0 133.23 L331.0 133.82 L332.0 134.40 L333.0 134.98 L334.0 135.57 L335.0 136.15 L336.0 136.74 L337.0 137.32 L338.0 137.91 L339.0 138.49 L340.0 139.07 L341.0 139.66 L342.0 140.24 L343.0 140.83 L344.0 141.41 L345.0 141.99 L346.0 142.57 L347.0 143.14 L348.0 143.72 L349.0 144.29 L350.0 144.86 L351.0 145.43 L352.0 145.99 L353.0 146.56 L354.0 147.12 L355.0 147.67 L356.0 148.23 L357.0 148.78 L358.0 149.32 L359.0 149.86 L360.0 150.40 L361.0 150.94 L362.0 151.47 L363.0 152.00 L364.0 152.53 L365.0 153.05 L366.0 153.57 L367.0 154.09 L368.0 154.61 L369.0 155.13 L370.0 155.64 L371.0 156.15 L372.0 156.66 L373.0 157.17 L374.0 157.68 L375.0 158.19 L376.0 158.69 L377.0 159.19 L378.0 159.70 L379.0 160.20 L380.0 160.70 L381.0 161.20 L382.0 161.70 L383.0 162.20 L384.0 162.70 L385.0 163.20 L386.0 163.70 L387.0 164.20 L388.0 164.70 L389.0 165.21 L390.0 165.71 L391.0 166.21 L392.0 166.72 L393.0 167.22 L394.0 167.72 L395.0 168.23 L396.0 168.73 L397.0 169.23 L398.0 169.73 L399.0 170.23 L400.0 170.73 L401.0 171.22 L402.0 171.72 L403.0 172.21 L404.0 172.70 L405.0 173.18 L406.0 173.66 L407.0 174.14 L408.0 174.62 L409.0 175.09 L410.0 175.56 L411.0 176.02 L412.0 176.48 L413.0 176.93 L414.0 177.38 L415.0 177.82 L416.0 178.26 L417.0 178.70 L418.0 179.13 L419.0 179.55 L420.0 179.97 L421.0 180.39 L422.0 180.81 L423.0 181.22 L424.0 181.63 L425.0 182.04 L426.0 182.44 L427.0 182.84 L428.0 183.24 L429.0 183.64 L430.0 184.04 L431.0 184.43 L432.0 184.82 L433.0 185.22 L434.0 185.61 L435.0 186.00 L436.0 186.39 L437.0 186.78 L438.0 187.18 L439.0 187.57 L440.0 187.96 L441.0 188.35 L442.0 188.75 L443.0 189.15 L444.0 189.54 L445.0 189.94 L446.0 190.34 L447.0 190.74 L448.0 191.14 L449.0 191.55 L450.0 191.95 L451.0 192.35 L452.0 192.76 L453.0 193.16 L454.0 193.56 L455.0 193.97 L456.0 194.37 L457.0 194.77 L458.0 195.17 L459.0 195.57 L460.0 195.97 L461.0 196.36 L462.0 196.76 L463.0 197.15 L464.0 197.54 L465.0 197.93 L466.0 198.31 L467.0 198.69 L468.0 199.07 L469.0 199.45 L470.0 199.82 L471.0 200.19 L472.0 200.55 L473.0 200.91 L474.0 201.27 L475.0 201.62 L476.0 201.97 L477.0 202.32 L478.0 202.66 L479.0 203.01 L480.0 203.34 L481.0 203.68 L482.0 204.01 L483.0 204.34 L484.0 204.67 L485.0 205.00 L486.0 205.33 L487.0 205.65 L488.0 205.97 L489.0 206.29 L490.0 206.61 L491.0 206.93 L492.0 207.25 L493.0 207.57 L494.0 207.88 L495.0 208.20 L496.0 208.52 L497.0 208.83 L498.0 209.15 L499.0 209.47 L500.0 209.78 L501.0 210.10 L502.0 210.42 L503.0 210.74 L504.0 211.06 L505.0 211.38 L506.0 211.70 L507.0 212.02 L508.0 212.34 L509.0 212.67 L510.0 212.99 L511.0 213.31 L512.0 213.63 L513.0 213.96 L514.0 214.28 L515.0 214.60 L516.0 214.92 L517.0 215.24 L518.0 215.56 L519.0 215.88 L520.0 216.19 L521.0 216.51 L522.0 216.82 L523.0 217.13 L524.0 217.44 L525.0 217.75 L526.0 218.05 L527.0 218.36 L528.0 218.66 L529.0 218.95 L530.0 219.25 L531.0 219.54 L532.0 219.82 L533.0 220.11 L534.0 220.39 L535.0 220.67 L536.0 220.95 L537.0 221.22 L538.0 221.49 L539.0 221.76 L540.0 222.03 L541.0 222.29 L542.0 222.56 L543.0 222.82 L544.0 223.08 L545.0 223.33 L546.0 223.59 L547.0 223.85 L548.0 224.10 L549.0 224.35 L550.0 224.60 L551.0 224.85 L552.0 225.10 L553.0 225.35 L554.0 225.60 L555.0 225.85 L556.0 226.09 L557.0 226.34 L558.0 226.58 L559.0 226.83 L560.0 227.07 L561.0 227.32 L562.0 227.56 L563.0 227.81 L564.0 228.05 L565.0 228.30 L566.0 228.54 L567.0 228.78 L568.0 229.03 L569.0 229.27 L570.0 229.51 L571.0 229.75 L572.0 230.00 L573.0 230.24 L574.0 230.48 L575.0 230.72 L576.0 230.96 L577.0 231.20 L578.0 231.43 L579.0 231.67 L580.0 231.91 L581.0 232.14 L582.0 232.38 L583.0 232.61 L584.0 232.84 L585.0 233.07 L586.0 233.30 L587.0 233.53 L588.0 233.76 L589.0 233.98 L590.0 234.21 L591.0 234.43 L592.0 234.65 L593.0 234.87 L594.0 235.09 L595.0 235.31 L596.0 235.52 L597.0 235.74 L598.0 235.95 L599.0 236.16 L600.0 236.37 L601.0 236.58 L602.0 236.79 L603.0 237.00 L604.0 237.21 L605.0 237.42 L606.0 237.62 L607.0 237.83 L608.0 238.03 L609.0 238.23 L610.0 238.43 L611.0 238.63 L612.0 238.83 L613.0 239.03 L614.0 239.23 L615.0 239.43 L616.0 239.62 L617.0 239.82 L618.0 240.01 L619.0 240.21 L620.0 240.40 L621.0 240.59 L622.0 240.78 L623.0 240.97 L624.0 241.16 L625.0 241.35 L626.0 241.54 L627.0 241.72 L628.0 241.91 L629.0 242.09 L630.0 242.27 L631.0 242.46 L632.0 242.64 L633.0 242.82 L634.0 243.00 L635.0 243.18 L636.0 243.35 L637.0 243.53 L638.0 243.71 L639.0 243.88 L640.0 244.06 L641.0 244.23 L642.0 244.40 L643.0 244.58 L644.0 244.75 L645.0 244.92 L646.0 245.09 L647.0 245.26 L648.0 245.43 L649.0 245.60 L650.0 245.77 L651.0 245.94 L652.0 246.11 L653.0 246.28 L654.0 246.45 L655.0 246.61 L656.0 246.78 L657.0 246.95 L658.0 247.12 L659.0 247.28 L660.0 247.45 L661.0 247.62 L662.0 247.78 L663.0 247.95 L664.0 248.12 L665.0 248.28 L666.0 248.45 L667.0 248.61 L668.0 248.77 L669.0 248.94 L670.0 249.10 L671.0 249.26 L672.0 249.43 L673.0 249.59 L674.0 249.75 L675.0 249.91 L676.0 250.07 L677.0 250.23 L678.0 250.39 L679.0 250.54 L680.0 250.70 L681.0 250.86 L682.0 251.01 L683.0 251.17 L684.0 251.32 L685.0 251.47 L686.0 251.63 L687.0 251.78 L688.0 251.93 L689.0 252.08 L690.0 252.23 L691.0 252.38 L692.0 252.53 L693.0 252.67 L694.0 252.82 L695.0 252.97 L696.0 253.12 L697.0 253.26 L698.0 253.41 L699.0 253.55 L700.0 253.70 L701.0 253.84 L702.0 253.98 L703.0 254.12 L704.0 254.27 L705.0 254.41 L706.0 254.55 L707.0 254.69 L708.0 254.83 L709.0 254.96 L710.0 255.10 L711.0 255.24 L712.0 255.37 L713.0 255.51 L714.0 255.64 L715.0 255.77 L716.0 255.91 L717.0 256.04 L718.0 256.17 L719.0 256.30 L720.0 256.43 L721.0 256.55 L722.0 256.68 L723.0 256.81 L724.0 256.93 L725.0 257.06 L726.0 257.18 L727.0 257.30 L728.0 257.42 L729.0 257.54 L730.0 257.66 L731.0 257.78 L732.0 257.90 L733.0 258.02 L734.0 258.14 L735.0 258.26 L736.0 258.37 L737.0 258.49 L738.0 258.61 L739.0 258.72 L740.0 258.84 L741.0 258.95 L742.0 259.07 L743.0 259.18 L744.0 259.30 L745.0 259.41 L746.0 259.53 L747.0 259.64 L748.0 259.76 L749.0 259.87 L750.0 259.99 L751.0 260.10 L752.0 260.22 L753.0 260.33 L754.0 260.44 L755.0 260.56 L756.0 260.67 L757.0 260.78 L758.0 260.89 L759.0 261.00 L760.0 261.11 L761.0 261.22 L762.0 261.33 L763.0 261.44 L764.0 261.55 L765.0 261.66 L766.0 261.77 L767.0 261.88 L768.0 261.99 L769.0 262.10 L770.0 262.21 L771.0 262.32 L772.0 262.43 L773.0 262.54 L774.0 262.65 L775.0 262.77 L776.0 262.88 L777.0 262.99 L778.0 263.10 L779.0 263.22 L780.0 263.33 L781.0 263.44 L782.0 263.56 L783.0 263.67 L784.0 263.79 L785.0 263.91 L786.0 264.02 L787.0 264.14 L788.0 264.26 L789.0 264.38 L790.0 264.49 L791.0 264.61 L792.0 264.73 L793.0 264.85 L794.0 264.97 L795.0 265.08 L796.0 265.19 L797.0 265.29 L797.6 265.40" fill="none" stroke="#0000ff" stroke-width="5.3" stroke-linecap="round" stroke-dasharray="0.01 31.49" stroke-dashoffset="-23.60"/>
<path d="M197.0 672.60 L198.0 672.07 L199.0 671.54 L200.0 671.01 L201.0 670.49 L202.0 669.97 L203.0 669.46 L204.0 668.96 L205.0 668.46 L206.0 667.98 L207.0 667.50 L208.0 667.03 L209.0 666.57 L210.0 666.12 L211.0 665.67 L212.0 665.24 L213.0 664.80 L214.0 664.37 L215.0 663.95 L216.0 663.52 L217.0 663.10 L218.0 662.67 L219.0 662.24 L220.0 661.81 L221.0 661.37 L222.0 660.93 L223.0 660.49 L224.0 660.04 L225.0 659.59 L226.0 659.14 L227.0 658.69 L228.0 658.24 L229.0 657.79 L230.0 657.34 L231.0 656.90 L232.0 656.46 L233.0 656.02 L234.0 655.60 L235.0 655.18 L236.0 654.77 L237.0 654.36 L238.0 653.97 L239.0 653.58 L240.0 653.19 L241.0 652.82 L242.0 652.45 L243.0 652.08 L244.0 651.72 L245.0 651.36 L246.0 651.01 L247.0 650.66 L248.0 650.31 L249.0 649.96 L250.0 649.63 L251.0 649.29 L252.0 648.96 L253.0 648.64 L254.0 648.32 L255.0 648.00 L256.0 647.69 L257.0 647.39 L258.0 647.09 L259.0 646.80 L260.0 646.52 L261.0 646.24 L262.0 645.97 L263.0 645.70 L264.0 645.44 L265.0 645.19 L266.0 644.93 L267.0 644.69 L268.0 644.44 L269.0 644.20 L270.0 643.96 L271.0 643.72 L272.0 643.49 L273.0 643.26 L274.0 643.04 L275.0 642.82 L276.0 642.60 L277.0 642.39 L278.0 642.18 L279.0 641.98 L280.0 641.79 L281.0 641.59 L282.0 641.41 L283.0 641.23 L284.0 641.06 L285.0 640.89 L286.0 640.73 L287.0 640.58 L288.0 640.43 L289.0 640.29 L290.0 640.15 L291.0 640.01 L292.0 639.88 L293.0 639.75 L294.0 639.63 L295.0 639.50 L296.0 639.38 L297.0 639.27 L298.0 639.15 L299.0 639.04 L300.0 638.93 L301.0 638.82 L302.0 638.72 L303.0 638.62 L304.0 638.52 L305.0 638.43 L306.0 638.34 L307.0 638.26 L308.0 638.18 L309.0 638.10 L310.0 638.03 L311.0 637.96 L312.0 637.90 L313.0 637.84 L314.0 637.78 L315.0 637.72 L316.0 637.67 L317.0 637.61 L318.0 637.56 L319.0 637.51 L320.0 637.46 L321.0 637.41 L322.0 637.36 L323.0 637.32 L324.0 637.27 L325.0 637.23 L326.0 637.19 L327.0 637.15 L328.0 637.11 L329.0 637.08 L330.0 637.04 L331.0 637.02 L332.0 636.99 L333.0 636.97 L334.0 636.95 L335.0 636.93 L336.0 636.92 L337.0 636.91 L338.0 636.91 L339.0 636.91 L340.0 636.90 L341.0 636.90 L342.0 636.90 L343.0 636.91 L344.0 636.91 L345.0 636.91 L346.0 636.91 L347.0 636.92 L348.0 636.92 L349.0 636.92 L350.0 636.93 L351.0 636.93 L352.0 636.94 L353.0 636.94 L354.0 636.95 L355.0 636.95 L356.0 636.96 L357.0 636.96 L358.0 636.97 L359.0 636.98 L360.0 636.98 L361.0 636.99 L362.0 637.00 L363.0 637.00 L364.0 637.01 L365.0 637.02 L366.0 637.03 L367.0 637.04 L368.0 637.06 L369.0 637.07 L370.0 637.08 L371.0 637.10 L372.0 637.12 L373.0 637.14 L374.0 637.15 L375.0 637.17 L376.0 637.19 L377.0 637.21 L378.0 637.23 L379.0 637.26 L380.0 637.28 L381.0 637.30 L382.0 637.32 L383.0 637.34 L384.0 637.37 L385.0 637.39 L386.0 637.41 L387.0 637.43 L388.0 637.46 L389.0 637.48 L390.0 637.50 L391.0 637.52 L392.0 637.54 L393.0 637.57 L394.0 637.59 L395.0 637.61 L396.0 637.63 L397.0 637.66 L398.0 637.68 L399.0 637.70 L400.0 637.73 L401.0 637.75 L402.0 637.77 L403.0 637.80 L404.0 637.82 L405.0 637.85 L406.0 637.87 L407.0 637.90 L408.0 637.92 L409.0 637.95 L410.0 637.98 L411.0 638.00 L412.0 638.03 L413.0 638.05 L414.0 638.08 L415.0 638.11 L416.0 638.13 L417.0 638.16 L418.0 638.19 L419.0 638.21 L420.0 638.24 L421.0 638.27 L422.0 638.30 L423.0 638.32 L424.0 638.35 L425.0 638.38 L426.0 638.41 L427.0 638.43 L428.0 638.46 L429.0 638.49 L430.0 638.52 L431.0 638.55 L432.0 638.57 L433.0 638.60 L434.0 638.63 L435.0 638.66 L436.0 638.69 L437.0 638.72 L438.0 638.74 L439.0 638.77 L440.0 638.80 L441.0 638.83 L442.0 638.86 L443.0 638.88 L444.0 638.91 L445.0 638.94 L446.0 638.97 L447.0 639.00 L448.0 639.03 L449.0 639.06 L450.0 639.08 L451.0 639.11 L452.0 639.14 L453.0 639.17 L454.0 639.20 L455.0 639.23 L456.0 639.26 L457.0 639.29 L458.0 639.32 L459.0 639.35 L460.0 639.38 L461.0 639.41 L462.0 639.44 L463.0 639.47 L464.0 639.50 L465.0 639.53 L466.0 639.56 L467.0 639.59 L468.0 639.62 L469.0 639.65 L470.0 639.68 L471.0 639.71 L472.0 639.74 L473.0 639.78 L474.0 639.81 L475.0 639.84 L476.0 639.87 L477.0 639.90 L478.0 639.94 L479.0 639.97 L480.0 640.00 L481.0 640.03 L482.0 640.07 L483.0 640.10 L484.0 640.14 L485.0 640.17 L486.0 640.20 L487.0 640.24 L488.0 640.27 L489.0 640.31 L490.0 640.34 L491.0 640.38 L492.0 640.42 L493.0 640.45 L494.0 640.49 L495.0 640.53 L496.0 640.56 L497.0 640.60 L498.0 640.64 L499.0 640.68 L500.0 640.72 L501.0 640.76 L502.0 640.80 L503.0 640.84 L504.0 640.88 L505.0 640.92 L506.0 640.96 L507.0 641.00 L508.0 641.04 L509.0 641.08 L510.0 641.12 L511.0 641.16 L512.0 641.21 L513.0 641.25 L514.0 641.29 L515.0 641.33 L516.0 641.37 L517.0 641.42 L518.0 641.46 L519.0 641.50 L520.0 641.54 L521.0 641.59 L522.0 641.63 L523.0 641.67 L524.0 641.72 L525.0 641.76 L526.0 641.80 L527.0 641.84 L528.0 641.89 L529.0 641.93 L530.0 641.97 L531.0 642.01 L532.0 642.06 L533.0 642.10 L534.0 642.14 L535.0 642.18 L536.0 642.23 L537.0 642.27 L538.0 642.31 L539.0 642.35 L540.0 642.39 L541.0 642.44 L542.0 642.48 L543.0 642.52 L544.0 642.56 L545.0 642.60 L546.0 642.64 L547.0 642.68 L548.0 642.72 L549.0 642.76 L550.0 642.80 L551.0 642.84 L552.0 642.88 L553.0 642.93 L554.0 642.97 L555.0 643.01 L556.0 643.05 L557.0 643.09 L558.0 643.13 L559.0 643.17 L560.0 643.21 L561.0 643.25 L562.0 643.29 L563.0 643.34 L564.0 643.38 L565.0 643.42 L566.0 643.46 L567.0 643.50 L568.0 643.54 L569.0 643.58 L570.0 643.62 L571.0 643.66 L572.0 643.70 L573.0 643.74 L574.0 643.78 L575.0 643.82 L576.0 643.86 L577.0 643.91 L578.0 643.95 L579.0 643.99 L580.0 644.03 L581.0 644.07 L582.0 644.11 L583.0 644.15 L584.0 644.18 L585.0 644.22 L586.0 644.26 L587.0 644.30 L588.0 644.34 L589.0 644.38 L590.0 644.42 L591.0 644.46 L592.0 644.50 L593.0 644.54 L594.0 644.57 L595.0 644.61 L596.0 644.65 L597.0 644.69 L598.0 644.72 L599.0 644.76 L600.0 644.80 L601.0 644.84 L602.0 644.87 L603.0 644.91 L604.0 644.95 L605.0 644.98 L606.0 645.02 L607.0 645.06 L608.0 645.09 L609.0 645.13 L610.0 645.17 L611.0 645.20 L612.0 645.24 L613.0 645.28 L614.0 645.31 L615.0 645.35 L616.0 645.38 L617.0 645.42 L618.0 645.46 L619.0 645.49 L620.0 645.53 L621.0 645.56 L622.0 645.60 L623.0 645.64 L624.0 645.67 L625.0 645.71 L626.0 645.74 L627.0 645.78 L628.0 645.81 L629.0 645.85 L630.0 645.88 L631.0 645.92 L632.0 645.95 L633.0 645.99 L634.0 646.02 L635.0 646.06 L636.0 646.09 L637.0 646.13 L638.0 646.16 L639.0 646.20 L640.0 646.23 L641.0 646.27 L642.0 646.30 L643.0 646.33 L644.0 646.37 L645.0 646.40 L646.0 646.44 L647.0 646.47 L648.0 646.51 L649.0 646.54 L650.0 646.57 L651.0 646.61 L652.0 646.64 L653.0 646.68 L654.0 646.71 L655.0 646.74 L656.0 646.78 L657.0 646.81 L658.0 646.84 L659.0 646.88 L660.0 646.91 L661.0 646.94 L662.0 646.98 L663.0 647.01 L664.0 647.04 L665.0 647.08 L666.0 647.11 L667.0 647.14 L668.0 647.18 L669.0 647.21 L670.0 647.24 L671.0 647.27 L672.0 647.31 L673.0 647.34 L674.0 647.37 L675.0 647.40 L676.0 647.44 L677.0 647.47 L678.0 647.50 L679.0 647.53 L680.0 647.57 L681.0 647.60 L682.0 647.63 L683.0 647.66 L684.0 647.70 L685.0 647.73 L686.0 647.76 L687.0 647.79 L688.0 647.82 L689.0 647.85 L690.0 647.89 L691.0 647.92 L692.0 647.95 L693.0 647.98 L694.0 648.01 L695.0 648.04 L696.0 648.07 L697.0 648.11 L698.0 648.14 L699.0 648.17 L700.0 648.20 L701.0 648.23 L702.0 648.26 L703.0 648.29 L704.0 648.32 L705.0 648.35 L706.0 648.39 L707.0 648.42 L708.0 648.45 L709.0 648.48 L710.0 648.51 L711.0 648.54 L712.0 648.57 L713.0 648.60 L714.0 648.63 L715.0 648.66 L716.0 648.69 L717.0 648.72 L718.0 648.75 L719.0 648.78 L720.0 648.81 L721.0 648.84 L722.0 648.87 L723.0 648.90 L724.0 648.93 L725.0 648.96 L726.0 648.99 L727.0 649.02 L728.0 649.05 L729.0 649.08 L730.0 649.11 L731.0 649.14 L732.0 649.17 L733.0 649.20 L734.0 649.23 L735.0 649.26 L736.0 649.29 L737.0 649.32 L738.0 649.35 L739.0 649.38 L740.0 649.41 L741.0 649.44 L742.0 649.46 L743.0 649.49 L744.0 649.52 L745.0 649.55 L746.0 649.58 L747.0 649.61 L748.0 649.64 L749.0 649.67 L750.0 649.70 L751.0 649.72 L752.0 649.75 L753.0 649.78 L754.0 649.81 L755.0 649.84 L756.0 649.87 L757.0 649.90 L758.0 649.92 L759.0 649.95 L760.0 649.98 L761.0 650.01 L762.0 650.04 L763.0 650.06 L764.0 650.09 L765.0 650.12 L766.0 650.15 L767.0 650.18 L768.0 650.20 L769.0 650.23 L770.0 650.26 L771.0 650.29 L772.0 650.31 L773.0 650.34 L774.0 650.37 L775.0 650.40 L776.0 650.42 L777.0 650.45 L778.0 650.48 L779.0 650.51 L780.0 650.53 L781.0 650.56 L782.0 650.59 L783.0 650.61 L784.0 650.64 L785.0 650.67 L786.0 650.69 L787.0 650.72 L788.0 650.75 L789.0 650.77 L790.0 650.80 L791.0 650.83 L792.0 650.85 L793.0 650.88 L794.0 650.90 L795.0 650.93 L796.0 650.95 L797.0 650.98 L797.6 651.00" fill="none" stroke="#000" stroke-width="2.7"/>
<path d="M197.0 928.00 L198.0 926.29 L199.0 924.57 L200.0 922.83 L201.0 921.04 L202.0 919.18 L203.0 917.23 L204.0 915.21 L205.0 913.12 L206.0 910.97 L207.0 908.79 L208.0 906.59 L209.0 904.39 L210.0 902.20 L211.0 900.03 L212.0 897.89 L213.0 895.79 L214.0 893.72 L215.0 891.65 L216.0 889.56 L217.0 887.43 L218.0 885.26 L219.0 883.05 L220.0 880.80 L221.0 878.54 L222.0 876.27 L223.0 874.02 L224.0 871.78 L225.0 869.58 L226.0 867.40 L227.0 865.25 L228.0 863.11 L229.0 860.97 L230.0 858.82 L231.0 856.65 L232.0 854.46 L233.0 852.26 L234.0 850.06 L235.0 847.87 L236.0 845.69 L237.0 843.54 L238.0 841.42 L239.0 839.33 L240.0 837.28 L241.0 835.26 L242.0 833.28 L243.0 831.32 L244.0 829.39 L245.0 827.49 L246.0 825.61 L247.0 823.75 L248.0 821.90 L249.0 820.07 L250.0 818.26 L251.0 816.45 L252.0 814.64 L253.0 812.85 L254.0 811.06 L255.0 809.27 L256.0 807.49 L257.0 805.72 L258.0 803.95 L259.0 802.18 L260.0 800.43 L261.0 798.68 L262.0 796.94 L263.0 795.23 L264.0 793.55 L265.0 791.90 L266.0 790.29 L267.0 788.72 L268.0 787.21 L269.0 785.74 L270.0 784.31 L271.0 782.93 L272.0 781.57 L273.0 780.23 L274.0 778.90 L275.0 777.57 L276.0 776.24 L277.0 774.90 L278.0 773.55 L279.0 772.20 L280.0 770.84 L281.0 769.49 L282.0 768.14 L283.0 766.82 L284.0 765.52 L285.0 764.24 L286.0 762.99 L287.0 761.78 L288.0 760.59 L289.0 759.43 L290.0 758.30 L291.0 757.19 L292.0 756.10 L293.0 755.02 L294.0 753.94 L295.0 752.88 L296.0 751.82 L297.0 750.77 L298.0 749.71 L299.0 748.67 L300.0 747.62 L301.0 746.59 L302.0 745.56 L303.0 744.55 L304.0 743.55 L305.0 742.57 L306.0 741.62 L307.0 740.69 L308.0 739.78 L309.0 738.90 L310.0 738.04 L311.0 737.20 L312.0 736.38 L313.0 735.58 L314.0 734.79 L315.0 734.01 L316.0 733.24 L317.0 732.46 L318.0 731.69 L319.0 730.92 L320.0 730.15 L321.0 729.37 L322.0 728.60 L323.0 727.82 L324.0 727.04 L325.0 726.27 L326.0 725.50 L327.0 724.74 L328.0 723.98 L329.0 723.24 L330.0 722.51 L331.0 721.80 L332.0 721.10 L333.0 720.42 L334.0 719.75 L335.0 719.10 L336.0 718.46 L337.0 717.83 L338.0 717.22 L339.0 716.61 L340.0 716.01 L341.0 715.42 L342.0 714.84 L343.0 714.26 L344.0 713.69 L345.0 713.12 L346.0 712.55 L347.0 711.99 L348.0 711.44 L349.0 710.88 L350.0 710.34 L351.0 709.79 L352.0 709.25 L353.0 708.72 L354.0 708.19 L355.0 707.67 L356.0 707.16 L357.0 706.65 L358.0 706.15 L359.0 705.66 L360.0 705.17 L361.0 704.70 L362.0 704.22 L363.0 703.76 L364.0 703.30 L365.0 702.84 L366.0 702.39 L367.0 701.95 L368.0 701.51 L369.0 701.08 L370.0 700.66 L371.0 700.24 L372.0 699.83 L373.0 699.42 L374.0 699.02 L375.0 698.63 L376.0 698.24 L377.0 697.85 L378.0 697.48 L379.0 697.10 L380.0 696.73 L381.0 696.37 L382.0 696.01 L383.0 695.66 L384.0 695.31 L385.0 694.96 L386.0 694.62 L387.0 694.28 L388.0 693.94 L389.0 693.61 L390.0 693.28 L391.0 692.95 L392.0 692.62 L393.0 692.30 L394.0 691.98 L395.0 691.67 L396.0 691.36 L397.0 691.05 L398.0 690.75 L399.0 690.45 L400.0 690.15 L401.0 689.86 L402.0 689.58 L403.0 689.30 L404.0 689.03 L405.0 688.76 L406.0 688.49 L407.0 688.24 L408.0 687.98 L409.0 687.73 L410.0 687.49 L411.0 687.25 L412.0 687.01 L413.0 686.77 L414.0 686.54 L415.0 686.31 L416.0 686.09 L417.0 685.86 L418.0 685.64 L419.0 685.42 L420.0 685.21 L421.0 684.99 L422.0 684.78 L423.0 684.58 L424.0 684.37 L425.0 684.17 L426.0 683.97 L427.0 683.77 L428.0 683.57 L429.0 683.38 L430.0 683.19 L431.0 683.00 L432.0 682.81 L433.0 682.62 L434.0 682.44 L435.0 682.26 L436.0 682.08 L437.0 681.91 L438.0 681.73 L439.0 681.56 L440.0 681.39 L441.0 681.23 L442.0 681.06 L443.0 680.90 L444.0 680.73 L445.0 680.57 L446.0 680.41 L447.0 680.25 L448.0 680.09 L449.0 679.94 L450.0 679.78 L451.0 679.62 L452.0 679.46 L453.0 679.30 L454.0 679.15 L455.0 678.99 L456.0 678.83 L457.0 678.67 L458.0 678.52 L459.0 678.37 L460.0 678.22 L461.0 678.07 L462.0 677.92 L463.0 677.78 L464.0 677.65 L465.0 677.52 L466.0 677.39 L467.0 677.27 L468.0 677.15 L469.0 677.03 L470.0 676.92 L471.0 676.81 L472.0 676.70 L473.0 676.59 L474.0 676.49 L475.0 676.39 L476.0 676.29 L477.0 676.19 L478.0 676.09 L479.0 676.00 L480.0 675.90 L481.0 675.81 L482.0 675.72 L483.0 675.63 L484.0 675.54 L485.0 675.45 L486.0 675.36 L487.0 675.27 L488.0 675.18 L489.0 675.09 L490.0 675.00 L491.0 674.91 L492.0 674.82 L493.0 674.73 L494.0 674.65 L495.0 674.56 L496.0 674.47 L497.0 674.38 L498.0 674.30 L499.0 674.21 L500.0 674.12 L501.0 674.04 L502.0 673.95 L503.0 673.87 L504.0 673.78 L505.0 673.70 L506.0 673.62 L507.0 673.54 L508.0 673.46 L509.0 673.38 L510.0 673.30 L511.0 673.22 L512.0 673.14 L513.0 673.07 L514.0 672.99 L515.0 672.92 L516.0 672.85 L517.0 672.77 L518.0 672.71 L519.0 672.64 L520.0 672.57 L521.0 672.50 L522.0 672.44 L523.0 672.37 L524.0 672.31 L525.0 672.25 L526.0 672.19 L527.0 672.13 L528.0 672.07 L529.0 672.01 L530.0 671.95 L531.0 671.89 L532.0 671.83 L533.0 671.78 L534.0 671.72 L535.0 671.67 L536.0 671.61 L537.0 671.56 L538.0 671.51 L539.0 671.45 L540.0 671.40 L541.0 671.35 L542.0 671.30 L543.0 671.25 L544.0 671.20 L545.0 671.15 L546.0 671.10 L547.0 671.05 L548.0 671.01 L549.0 670.96 L550.0 670.91 L551.0 670.87 L552.0 670.82 L553.0 670.78 L554.0 670.73 L555.0 670.69 L556.0 670.65 L557.0 670.60 L558.0 670.56 L559.0 670.52 L560.0 670.47 L561.0 670.43 L562.0 670.39 L563.0 670.35 L564.0 670.30 L565.0 670.26 L566.0 670.22 L567.0 670.18 L568.0 670.14 L569.0 670.10 L570.0 670.07 L571.0 670.03 L572.0 669.99 L573.0 669.95 L574.0 669.92 L575.0 669.88 L576.0 669.85 L577.0 669.82 L578.0 669.78 L579.0 669.75 L580.0 669.72 L581.0 669.69 L582.0 669.66 L583.0 669.64 L584.0 669.61 L585.0 669.58 L586.0 669.56 L587.0 669.54 L588.0 669.51 L589.0 669.49 L590.0 669.47 L591.0 669.44 L592.0 669.42 L593.0 669.40 L594.0 669.38 L595.0 669.36 L596.0 669.34 L597.0 669.32 L598.0 669.30 L599.0 669.28 L600.0 669.27 L601.0 669.25 L602.0 669.23 L603.0 669.21 L604.0 669.20 L605.0 669.18 L606.0 669.16 L607.0 669.14 L608.0 669.13 L609.0 669.11 L610.0 669.09 L611.0 669.08 L612.0 669.06 L613.0 669.04 L614.0 669.02 L615.0 669.01 L616.0 668.99 L617.0 668.97 L618.0 668.95 L619.0 668.94 L620.0 668.92 L621.0 668.90 L622.0 668.88 L623.0 668.87 L624.0 668.85 L625.0 668.83 L626.0 668.82 L627.0 668.80 L628.0 668.78 L629.0 668.76 L630.0 668.75 L631.0 668.73 L632.0 668.72 L633.0 668.70 L634.0 668.68 L635.0 668.67 L636.0 668.65 L637.0 668.64 L638.0 668.62 L639.0 668.61 L640.0 668.59 L641.0 668.58 L642.0 668.56 L643.0 668.55 L644.0 668.54 L645.0 668.53 L646.0 668.51 L647.0 668.50 L648.0 668.49 L649.0 668.48 L650.0 668.47 L651.0 668.46 L652.0 668.45 L653.0 668.44 L654.0 668.42 L655.0 668.42 L656.0 668.41 L657.0 668.40 L658.0 668.39 L659.0 668.38 L660.0 668.37 L661.0 668.36 L662.0 668.35 L663.0 668.34 L664.0 668.33 L665.0 668.32 L666.0 668.32 L667.0 668.31 L668.0 668.30 L669.0 668.29 L670.0 668.28 L671.0 668.27 L672.0 668.26 L673.0 668.25 L674.0 668.25 L675.0 668.24 L676.0 668.23 L677.0 668.22 L678.0 668.21 L679.0 668.20 L680.0 668.19 L681.0 668.18 L682.0 668.17 L683.0 668.16 L684.0 668.15 L685.0 668.14 L686.0 668.13 L687.0 668.13 L688.0 668.12 L689.0 668.11 L690.0 668.10 L691.0 668.09 L692.0 668.08 L693.0 668.07 L694.0 668.06 L695.0 668.05 L696.0 668.04 L697.0 668.03 L698.0 668.02 L699.0 668.01 L700.0 668.00 L701.0 667.99 L702.0 667.98 L703.0 667.97 L704.0 667.96 L705.0 667.95 L706.0 667.94 L707.0 667.93 L708.0 667.92 L709.0 667.91 L710.0 667.90 L711.0 667.89 L712.0 667.88 L713.0 667.87 L714.0 667.85 L715.0 667.84 L716.0 667.83 L717.0 667.82 L718.0 667.80 L719.0 667.79 L720.0 667.78 L721.0 667.77 L722.0 667.75 L723.0 667.74 L724.0 667.73 L725.0 667.71 L726.0 667.70 L727.0 667.69 L728.0 667.67 L729.0 667.66 L730.0 667.65 L731.0 667.63 L732.0 667.62 L733.0 667.61 L734.0 667.60 L735.0 667.58 L736.0 667.57 L737.0 667.56 L738.0 667.55 L739.0 667.53 L740.0 667.52 L741.0 667.51 L742.0 667.50 L743.0 667.49 L744.0 667.48 L745.0 667.47 L746.0 667.46 L747.0 667.45 L748.0 667.44 L749.0 667.43 L750.0 667.42 L751.0 667.41 L752.0 667.40 L753.0 667.39 L754.0 667.38 L755.0 667.37 L756.0 667.36 L757.0 667.35 L758.0 667.34 L759.0 667.33 L760.0 667.32 L761.0 667.31 L762.0 667.30 L763.0 667.29 L764.0 667.28 L765.0 667.28 L766.0 667.27 L767.0 667.26 L768.0 667.25 L769.0 667.24 L770.0 667.23 L771.0 667.22 L772.0 667.21 L773.0 667.20 L774.0 667.20 L775.0 667.19 L776.0 667.18 L777.0 667.17 L778.0 667.16 L779.0 667.15 L780.0 667.14 L781.0 667.14 L782.0 667.13 L783.0 667.12 L784.0 667.11 L785.0 667.10 L786.0 667.09 L787.0 667.08 L788.0 667.08 L789.0 667.07 L790.0 667.06 L791.0 667.05 L792.0 667.04 L793.0 667.04 L794.0 667.03 L795.0 667.02 L796.0 667.01 L797.0 667.01 L797.6 667.00" fill="none" stroke="#b40000" stroke-width="2.7" stroke-dasharray="15.70 15.80"/>
<path d="M197.0 664.70 L198.0 664.52 L199.0 664.35 L200.0 664.18 L201.0 664.01 L202.0 663.85 L203.0 663.70 L204.0 663.56 L205.0 663.42 L206.0 663.29 L207.0 663.17 L208.0 663.06 L209.0 662.95 L210.0 662.85 L211.0 662.76 L212.0 662.68 L213.0 662.60 L214.0 662.54 L215.0 662.48 L216.0 662.42 L217.0 662.37 L218.0 662.31 L219.0 662.26 L220.0 662.21 L221.0 662.15 L222.0 662.08 L223.0 662.02 L224.0 661.95 L225.0 661.88 L226.0 661.80 L227.0 661.73 L228.0 661.65 L229.0 661.58 L230.0 661.51 L231.0 661.44 L232.0 661.38 L233.0 661.32 L234.0 661.27 L235.0 661.22 L236.0 661.17 L237.0 661.13 L238.0 661.09 L239.0 661.06 L240.0 661.02 L241.0 660.99 L242.0 660.96 L243.0 660.93 L244.0 660.91 L245.0 660.88 L246.0 660.85 L247.0 660.83 L248.0 660.80 L249.0 660.77 L250.0 660.75 L251.0 660.72 L252.0 660.69 L253.0 660.66 L254.0 660.64 L255.0 660.61 L256.0 660.58 L257.0 660.55 L258.0 660.52 L259.0 660.49 L260.0 660.46 L261.0 660.43 L262.0 660.40 L263.0 660.38 L264.0 660.35 L265.0 660.32 L266.0 660.29 L267.0 660.27 L268.0 660.24 L269.0 660.22 L270.0 660.20 L271.0 660.17 L272.0 660.15 L273.0 660.13 L274.0 660.12 L275.0 660.10 L276.0 660.08 L277.0 660.06 L278.0 660.05 L279.0 660.03 L280.0 660.01 L281.0 660.00 L282.0 659.98 L283.0 659.96 L284.0 659.95 L285.0 659.93 L286.0 659.92 L287.0 659.90 L288.0 659.89 L289.0 659.88 L290.0 659.87 L291.0 659.86 L292.0 659.85 L293.0 659.84 L294.0 659.83 L295.0 659.82 L296.0 659.82 L297.0 659.81 L298.0 659.81 L299.0 659.80 L300.0 659.80 L301.0 659.80 L302.0 659.80 L303.0 659.80 L304.0 659.80 L305.0 659.80 L306.0 659.80 L307.0 659.80 L308.0 659.80 L309.0 659.80 L310.0 659.80 L311.0 659.80 L312.0 659.80 L313.0 659.80 L314.0 659.80 L315.0 659.80 L316.0 659.80 L317.0 659.80 L318.0 659.80 L319.0 659.80 L320.0 659.80 L321.0 659.80 L322.0 659.80 L323.0 659.80 L324.0 659.80 L325.0 659.80 L326.0 659.80 L327.0 659.80 L328.0 659.80 L329.0 659.80 L330.0 659.80 L331.0 659.80 L332.0 659.80 L333.0 659.80 L334.0 659.80 L335.0 659.80 L336.0 659.80 L337.0 659.80 L338.0 659.80 L339.0 659.80 L340.0 659.80 L341.0 659.80 L342.0 659.80 L343.0 659.80 L344.0 659.81 L345.0 659.81 L346.0 659.81 L347.0 659.82 L348.0 659.82 L349.0 659.83 L350.0 659.83 L351.0 659.84 L352.0 659.84 L353.0 659.85 L354.0 659.86 L355.0 659.86 L356.0 659.87 L357.0 659.88 L358.0 659.89 L359.0 659.90 L360.0 659.91 L361.0 659.92 L362.0 659.93 L363.0 659.94 L364.0 659.94 L365.0 659.95 L366.0 659.97 L367.0 659.98 L368.0 659.99 L369.0 660.00 L370.0 660.01 L371.0 660.02 L372.0 660.03 L373.0 660.04 L374.0 660.05 L375.0 660.06 L376.0 660.07 L377.0 660.08 L378.0 660.09 L379.0 660.10 L380.0 660.11 L381.0 660.12 L382.0 660.13 L383.0 660.14 L384.0 660.15 L385.0 660.16 L386.0 660.17 L387.0 660.18 L388.0 660.18 L389.0 660.19 L390.0 660.20 L391.0 660.21 L392.0 660.21 L393.0 660.22 L394.0 660.23 L395.0 660.24 L396.0 660.24 L397.0 660.25 L398.0 660.26 L399.0 660.26 L400.0 660.27 L401.0 660.28 L402.0 660.28 L403.0 660.29 L404.0 660.30 L405.0 660.30 L406.0 660.31 L407.0 660.32 L408.0 660.32 L409.0 660.33 L410.0 660.34 L411.0 660.34 L412.0 660.35 L413.0 660.36 L414.0 660.36 L415.0 660.37 L416.0 660.38 L417.0 660.38 L418.0 660.39 L419.0 660.40 L420.0 660.40 L421.0 660.41 L422.0 660.42 L423.0 660.42 L424.0 660.43 L425.0 660.44 L426.0 660.44 L427.0 660.45 L428.0 660.45 L429.0 660.46 L430.0 660.47 L431.0 660.47 L432.0 660.48 L433.0 660.49 L434.0 660.49 L435.0 660.50 L436.0 660.51 L437.0 660.51 L438.0 660.52 L439.0 660.53 L440.0 660.53 L441.0 660.54 L442.0 660.55 L443.0 660.55 L444.0 660.56 L445.0 660.57 L446.0 660.57 L447.0 660.58 L448.0 660.59 L449.0 660.59 L450.0 660.60 L451.0 660.61 L452.0 660.61 L453.0 660.62 L454.0 660.63 L455.0 660.64 L456.0 660.64 L457.0 660.65 L458.0 660.66 L459.0 660.66 L460.0 660.67 L461.0 660.68 L462.0 660.69 L463.0 660.69 L464.0 660.70 L465.0 660.71 L466.0 660.72 L467.0 660.72 L468.0 660.73 L469.0 660.74 L470.0 660.75 L471.0 660.75 L472.0 660.76 L473.0 660.77 L474.0 660.78 L475.0 660.78 L476.0 660.79 L477.0 660.80 L478.0 660.81 L479.0 660.81 L480.0 660.82 L481.0 660.83 L482.0 660.84 L483.0 660.84 L484.0 660.85 L485.0 660.86 L486.0 660.87 L487.0 660.87 L488.0 660.88 L489.0 660.89 L490.0 660.90 L491.0 660.90 L492.0 660.91 L493.0 660.92 L494.0 660.93 L495.0 660.93 L496.0 660.94 L497.0 660.95 L498.0 660.95 L499.0 660.96 L500.0 660.97 L501.0 660.98 L502.0 660.98 L503.0 660.99 L504.0 661.00 L505.0 661.00 L506.0 661.01 L507.0 661.02 L508.0 661.02 L509.0 661.03 L510.0 661.04 L511.0 661.04 L512.0 661.05 L513.0 661.06 L514.0 661.06 L515.0 661.07 L516.0 661.08 L517.0 661.08 L518.0 661.09 L519.0 661.09 L520.0 661.10 L521.0 661.11 L522.0 661.11 L523.0 661.12 L524.0 661.12 L525.0 661.13 L526.0 661.14 L527.0 661.14 L528.0 661.15 L529.0 661.15 L530.0 661.16 L531.0 661.17 L532.0 661.17 L533.0 661.18 L534.0 661.18 L535.0 661.19 L536.0 661.19 L537.0 661.20 L538.0 661.21 L539.0 661.21 L540.0 661.22 L541.0 661.22 L542.0 661.23 L543.0 661.24 L544.0 661.24 L545.0 661.25 L546.0 661.25 L547.0 661.26 L548.0 661.26 L549.0 661.27 L550.0 661.28 L551.0 661.28 L552.0 661.29 L553.0 661.29 L554.0 661.30 L555.0 661.30 L556.0 661.31 L557.0 661.31 L558.0 661.32 L559.0 661.32 L560.0 661.33 L561.0 661.34 L562.0 661.34 L563.0 661.35 L564.0 661.35 L565.0 661.36 L566.0 661.36 L567.0 661.37 L568.0 661.37 L569.0 661.38 L570.0 661.38 L571.0 661.39 L572.0 661.39 L573.0 661.40 L574.0 661.40 L575.0 661.40 L576.0 661.41 L577.0 661.41 L578.0 661.42 L579.0 661.42 L580.0 661.43 L581.0 661.43 L582.0 661.44 L583.0 661.44 L584.0 661.44 L585.0 661.45 L586.0 661.45 L587.0 661.46 L588.0 661.46 L589.0 661.46 L590.0 661.47 L591.0 661.47 L592.0 661.47 L593.0 661.48 L594.0 661.48 L595.0 661.48 L596.0 661.49 L597.0 661.49 L598.0 661.49 L599.0 661.50 L600.0 661.50 L601.0 661.50 L602.0 661.51 L603.0 661.51 L604.0 661.51 L605.0 661.51 L606.0 661.52 L607.0 661.52 L608.0 661.52 L609.0 661.53 L610.0 661.53 L611.0 661.53 L612.0 661.53 L613.0 661.54 L614.0 661.54 L615.0 661.54 L616.0 661.54 L617.0 661.55 L618.0 661.55 L619.0 661.55 L620.0 661.55 L621.0 661.56 L622.0 661.56 L623.0 661.56 L624.0 661.56 L625.0 661.57 L626.0 661.57 L627.0 661.57 L628.0 661.57 L629.0 661.58 L630.0 661.58 L631.0 661.58 L632.0 661.58 L633.0 661.58 L634.0 661.59 L635.0 661.59 L636.0 661.59 L637.0 661.59 L638.0 661.59 L639.0 661.60 L640.0 661.60 L641.0 661.60 L642.0 661.60 L643.0 661.61 L644.0 661.61 L645.0 661.61 L646.0 661.61 L647.0 661.61 L648.0 661.62 L649.0 661.62 L650.0 661.62 L651.0 661.62 L652.0 661.62 L653.0 661.63 L654.0 661.63 L655.0 661.63 L656.0 661.63 L657.0 661.63 L658.0 661.63 L659.0 661.64 L660.0 661.64 L661.0 661.64 L662.0 661.64 L663.0 661.64 L664.0 661.64 L665.0 661.65 L666.0 661.65 L667.0 661.65 L668.0 661.65 L669.0 661.65 L670.0 661.66 L671.0 661.66 L672.0 661.66 L673.0 661.66 L674.0 661.66 L675.0 661.66 L676.0 661.66 L677.0 661.67 L678.0 661.67 L679.0 661.67 L680.0 661.67 L681.0 661.67 L682.0 661.67 L683.0 661.68 L684.0 661.68 L685.0 661.68 L686.0 661.68 L687.0 661.68 L688.0 661.68 L689.0 661.68 L690.0 661.69 L691.0 661.69 L692.0 661.69 L693.0 661.69 L694.0 661.69 L695.0 661.69 L696.0 661.69 L697.0 661.70 L698.0 661.70 L699.0 661.70 L700.0 661.70 L701.0 661.70 L702.0 661.70 L703.0 661.70 L704.0 661.71 L705.0 661.71 L706.0 661.71 L707.0 661.71 L708.0 661.71 L709.0 661.71 L710.0 661.71 L711.0 661.71 L712.0 661.72 L713.0 661.72 L714.0 661.72 L715.0 661.72 L716.0 661.72 L717.0 661.72 L718.0 661.72 L719.0 661.72 L720.0 661.73 L721.0 661.73 L722.0 661.73 L723.0 661.73 L724.0 661.73 L725.0 661.73 L726.0 661.73 L727.0 661.73 L728.0 661.74 L729.0 661.74 L730.0 661.74 L731.0 661.74 L732.0 661.74 L733.0 661.74 L734.0 661.74 L735.0 661.74 L736.0 661.75 L737.0 661.75 L738.0 661.75 L739.0 661.75 L740.0 661.75 L741.0 661.75 L742.0 661.75 L743.0 661.75 L744.0 661.75 L745.0 661.76 L746.0 661.76 L747.0 661.76 L748.0 661.76 L749.0 661.76 L750.0 661.76 L751.0 661.76 L752.0 661.76 L753.0 661.76 L754.0 661.77 L755.0 661.77 L756.0 661.77 L757.0 661.77 L758.0 661.77 L759.0 661.77 L760.0 661.77 L761.0 661.77 L762.0 661.77 L763.0 661.77 L764.0 661.77 L765.0 661.78 L766.0 661.78 L767.0 661.78 L768.0 661.78 L769.0 661.78 L770.0 661.78 L771.0 661.78 L772.0 661.78 L773.0 661.78 L774.0 661.78 L775.0 661.78 L776.0 661.79 L777.0 661.79 L778.0 661.79 L779.0 661.79 L780.0 661.79 L781.0 661.79 L782.0 661.79 L783.0 661.79 L784.0 661.79 L785.0 661.79 L786.0 661.79 L787.0 661.79 L788.0 661.79 L789.0 661.79 L790.0 661.80 L791.0 661.80 L792.0 661.80 L793.0 661.80 L794.0 661.80 L795.0 661.80 L796.0 661.80 L797.0 661.80 L797.6 661.80" fill="none" stroke="#0000ff" stroke-width="2.7" stroke-dasharray="16.00 15.50"/>
<path d="M197.0 664.70 L198.0 664.52 L199.0 664.35 L200.0 664.18 L201.0 664.01 L202.0 663.85 L203.0 663.70 L204.0 663.56 L205.0 663.42 L206.0 663.29 L207.0 663.17 L208.0 663.06 L209.0 662.95 L210.0 662.85 L211.0 662.76 L212.0 662.68 L213.0 662.60 L214.0 662.54 L215.0 662.48 L216.0 662.42 L217.0 662.37 L218.0 662.31 L219.0 662.26 L220.0 662.21 L221.0 662.15 L222.0 662.08 L223.0 662.02 L224.0 661.95 L225.0 661.88 L226.0 661.80 L227.0 661.73 L228.0 661.65 L229.0 661.58 L230.0 661.51 L231.0 661.44 L232.0 661.38 L233.0 661.32 L234.0 661.27 L235.0 661.22 L236.0 661.17 L237.0 661.13 L238.0 661.09 L239.0 661.06 L240.0 661.02 L241.0 660.99 L242.0 660.96 L243.0 660.93 L244.0 660.91 L245.0 660.88 L246.0 660.85 L247.0 660.83 L248.0 660.80 L249.0 660.77 L250.0 660.75 L251.0 660.72 L252.0 660.69 L253.0 660.66 L254.0 660.64 L255.0 660.61 L256.0 660.58 L257.0 660.55 L258.0 660.52 L259.0 660.49 L260.0 660.46 L261.0 660.43 L262.0 660.40 L263.0 660.38 L264.0 660.35 L265.0 660.32 L266.0 660.29 L267.0 660.27 L268.0 660.24 L269.0 660.22 L270.0 660.20 L271.0 660.17 L272.0 660.15 L273.0 660.13 L274.0 660.12 L275.0 660.10 L276.0 660.08 L277.0 660.06 L278.0 660.05 L279.0 660.03 L280.0 660.01 L281.0 660.00 L282.0 659.98 L283.0 659.96 L284.0 659.95 L285.0 659.93 L286.0 659.92 L287.0 659.90 L288.0 659.89 L289.0 659.88 L290.0 659.87 L291.0 659.86 L292.0 659.85 L293.0 659.84 L294.0 659.83 L295.0 659.82 L296.0 659.82 L297.0 659.81 L298.0 659.81 L299.0 659.80 L300.0 659.80 L301.0 659.80 L302.0 659.80 L303.0 659.80 L304.0 659.80 L305.0 659.80 L306.0 659.80 L307.0 659.80 L308.0 659.80 L309.0 659.80 L310.0 659.80 L311.0 659.80 L312.0 659.80 L313.0 659.80 L314.0 659.80 L315.0 659.80 L316.0 659.80 L317.0 659.80 L318.0 659.80 L319.0 659.80 L320.0 659.80 L321.0 659.80 L322.0 659.80 L323.0 659.80 L324.0 659.80 L325.0 659.80 L326.0 659.80 L327.0 659.80 L328.0 659.80 L329.0 659.80 L330.0 659.80 L331.0 659.80 L332.0 659.80 L333.0 659.80 L334.0 659.80 L335.0 659.80 L336.0 659.80 L337.0 659.80 L338.0 659.80 L339.0 659.80 L340.0 659.80 L341.0 659.80 L342.0 659.80 L343.0 659.80 L344.0 659.81 L345.0 659.81 L346.0 659.81 L347.0 659.82 L348.0 659.82 L349.0 659.83 L350.0 659.83 L351.0 659.84 L352.0 659.84 L353.0 659.85 L354.0 659.86 L355.0 659.86 L356.0 659.87 L357.0 659.88 L358.0 659.89 L359.0 659.90 L360.0 659.91 L361.0 659.92 L362.0 659.93 L363.0 659.94 L364.0 659.94 L365.0 659.95 L366.0 659.97 L367.0 659.98 L368.0 659.99 L369.0 660.00 L370.0 660.01 L371.0 660.02 L372.0 660.03 L373.0 660.04 L374.0 660.05 L375.0 660.06 L376.0 660.07 L377.0 660.08 L378.0 660.09 L379.0 660.10 L380.0 660.11 L381.0 660.12 L382.0 660.13 L383.0 660.14 L384.0 660.15 L385.0 660.16 L386.0 660.17 L387.0 660.18 L388.0 660.18 L389.0 660.19 L390.0 660.20 L391.0 660.21 L392.0 660.21 L393.0 660.22 L394.0 660.23 L395.0 660.24 L396.0 660.24 L397.0 660.25 L398.0 660.26 L399.0 660.26 L400.0 660.27 L401.0 660.28 L402.0 660.28 L403.0 660.29 L404.0 660.30 L405.0 660.30 L406.0 660.31 L407.0 660.32 L408.0 660.32 L409.0 660.33 L410.0 660.34 L411.0 660.34 L412.0 660.35 L413.0 660.36 L414.0 660.36 L415.0 660.37 L416.0 660.38 L417.0 660.38 L418.0 660.39 L419.0 660.40 L420.0 660.40 L421.0 660.41 L422.0 660.42 L423.0 660.42 L424.0 660.43 L425.0 660.44 L426.0 660.44 L427.0 660.45 L428.0 660.45 L429.0 660.46 L430.0 660.47 L431.0 660.47 L432.0 660.48 L433.0 660.49 L434.0 660.49 L435.0 660.50 L436.0 660.51 L437.0 660.51 L438.0 660.52 L439.0 660.53 L440.0 660.53 L441.0 660.54 L442.0 660.55 L443.0 660.55 L444.0 660.56 L445.0 660.57 L446.0 660.57 L447.0 660.58 L448.0 660.59 L449.0 660.59 L450.0 660.60 L451.0 660.61 L452.0 660.61 L453.0 660.62 L454.0 660.63 L455.0 660.64 L456.0 660.64 L457.0 660.65 L458.0 660.66 L459.0 660.66 L460.0 660.67 L461.0 660.68 L462.0 660.69 L463.0 660.69 L464.0 660.70 L465.0 660.71 L466.0 660.72 L467.0 660.72 L468.0 660.73 L469.0 660.74 L470.0 660.75 L471.0 660.75 L472.0 660.76 L473.0 660.77 L474.0 660.78 L475.0 660.78 L476.0 660.79 L477.0 660.80 L478.0 660.81 L479.0 660.81 L480.0 660.82 L481.0 660.83 L482.0 660.84 L483.0 660.84 L484.0 660.85 L485.0 660.86 L486.0 660.87 L487.0 660.87 L488.0 660.88 L489.0 660.89 L490.0 660.90 L491.0 660.90 L492.0 660.91 L493.0 660.92 L494.0 660.93 L495.0 660.93 L496.0 660.94 L497.0 660.95 L498.0 660.95 L499.0 660.96 L500.0 660.97 L501.0 660.98 L502.0 660.98 L503.0 660.99 L504.0 661.00 L505.0 661.00 L506.0 661.01 L507.0 661.02 L508.0 661.02 L509.0 661.03 L510.0 661.04 L511.0 661.04 L512.0 661.05 L513.0 661.06 L514.0 661.06 L515.0 661.07 L516.0 661.08 L517.0 661.08 L518.0 661.09 L519.0 661.09 L520.0 661.10 L521.0 661.11 L522.0 661.11 L523.0 661.12 L524.0 661.12 L525.0 661.13 L526.0 661.14 L527.0 661.14 L528.0 661.15 L529.0 661.15 L530.0 661.16 L531.0 661.17 L532.0 661.17 L533.0 661.18 L534.0 661.18 L535.0 661.19 L536.0 661.19 L537.0 661.20 L538.0 661.21 L539.0 661.21 L540.0 661.22 L541.0 661.22 L542.0 661.23 L543.0 661.24 L544.0 661.24 L545.0 661.25 L546.0 661.25 L547.0 661.26 L548.0 661.26 L549.0 661.27 L550.0 661.28 L551.0 661.28 L552.0 661.29 L553.0 661.29 L554.0 661.30 L555.0 661.30 L556.0 661.31 L557.0 661.31 L558.0 661.32 L559.0 661.32 L560.0 661.33 L561.0 661.34 L562.0 661.34 L563.0 661.35 L564.0 661.35 L565.0 661.36 L566.0 661.36 L567.0 661.37 L568.0 661.37 L569.0 661.38 L570.0 661.38 L571.0 661.39 L572.0 661.39 L573.0 661.40 L574.0 661.40 L575.0 661.40 L576.0 661.41 L577.0 661.41 L578.0 661.42 L579.0 661.42 L580.0 661.43 L581.0 661.43 L582.0 661.44 L583.0 661.44 L584.0 661.44 L585.0 661.45 L586.0 661.45 L587.0 661.46 L588.0 661.46 L589.0 661.46 L590.0 661.47 L591.0 661.47 L592.0 661.47 L593.0 661.48 L594.0 661.48 L595.0 661.48 L596.0 661.49 L597.0 661.49 L598.0 661.49 L599.0 661.50 L600.0 661.50 L601.0 661.50 L602.0 661.51 L603.0 661.51 L604.0 661.51 L605.0 661.51 L606.0 661.52 L607.0 661.52 L608.0 661.52 L609.0 661.53 L610.0 661.53 L611.0 661.53 L612.0 661.53 L613.0 661.54 L614.0 661.54 L615.0 661.54 L616.0 661.54 L617.0 661.55 L618.0 661.55 L619.0 661.55 L620.0 661.55 L621.0 661.56 L622.0 661.56 L623.0 661.56 L624.0 661.56 L625.0 661.57 L626.0 661.57 L627.0 661.57 L628.0 661.57 L629.0 661.58 L630.0 661.58 L631.0 661.58 L632.0 661.58 L633.0 661.58 L634.0 661.59 L635.0 661.59 L636.0 661.59 L637.0 661.59 L638.0 661.59 L639.0 661.60 L640.0 661.60 L641.0 661.60 L642.0 661.60 L643.0 661.61 L644.0 661.61 L645.0 661.61 L646.0 661.61 L647.0 661.61 L648.0 661.62 L649.0 661.62 L650.0 661.62 L651.0 661.62 L652.0 661.62 L653.0 661.63 L654.0 661.63 L655.0 661.63 L656.0 661.63 L657.0 661.63 L658.0 661.63 L659.0 661.64 L660.0 661.64 L661.0 661.64 L662.0 661.64 L663.0 661.64 L664.0 661.64 L665.0 661.65 L666.0 661.65 L667.0 661.65 L668.0 661.65 L669.0 661.65 L670.0 661.66 L671.0 661.66 L672.0 661.66 L673.0 661.66 L674.0 661.66 L675.0 661.66 L676.0 661.66 L677.0 661.67 L678.0 661.67 L679.0 661.67 L680.0 661.67 L681.0 661.67 L682.0 661.67 L683.0 661.68 L684.0 661.68 L685.0 661.68 L686.0 661.68 L687.0 661.68 L688.0 661.68 L689.0 661.68 L690.0 661.69 L691.0 661.69 L692.0 661.69 L693.0 661.69 L694.0 661.69 L695.0 661.69 L696.0 661.69 L697.0 661.70 L698.0 661.70 L699.0 661.70 L700.0 661.70 L701.0 661.70 L702.0 661.70 L703.0 661.70 L704.0 661.71 L705.0 661.71 L706.0 661.71 L707.0 661.71 L708.0 661.71 L709.0 661.71 L710.0 661.71 L711.0 661.71 L712.0 661.72 L713.0 661.72 L714.0 661.72 L715.0 661.72 L716.0 661.72 L717.0 661.72 L718.0 661.72 L719.0 661.72 L720.0 661.73 L721.0 661.73 L722.0 661.73 L723.0 661.73 L724.0 661.73 L725.0 661.73 L726.0 661.73 L727.0 661.73 L728.0 661.74 L729.0 661.74 L730.0 661.74 L731.0 661.74 L732.0 661.74 L733.0 661.74 L734.0 661.74 L735.0 661.74 L736.0 661.75 L737.0 661.75 L738.0 661.75 L739.0 661.75 L740.0 661.75 L741.0 661.75 L742.0 661.75 L743.0 661.75 L744.0 661.75 L745.0 661.76 L746.0 661.76 L747.0 661.76 L748.0 661.76 L749.0 661.76 L750.0 661.76 L751.0 661.76 L752.0 661.76 L753.0 661.76 L754.0 661.77 L755.0 661.77 L756.0 661.77 L757.0 661.77 L758.0 661.77 L759.0 661.77 L760.0 661.77 L761.0 661.77 L762.0 661.77 L763.0 661.77 L764.0 661.77 L765.0 661.78 L766.0 661.78 L767.0 661.78 L768.0 661.78 L769.0 661.78 L770.0 661.78 L771.0 661.78 L772.0 661.78 L773.0 661.78 L774.0 661.78 L775.0 661.78 L776.0 661.79 L777.0 661.79 L778.0 661.79 L779.0 661.79 L780.0 661.79 L781.0 661.79 L782.0 661.79 L783.0 661.79 L784.0 661.79 L785.0 661.79 L786.0 661.79 L787.0 661.79 L788.0 661.79 L789.0 661.79 L790.0 661.80 L791.0 661.80 L792.0 661.80 L793.0 661.80 L794.0 661.80 L795.0 661.80 L796.0 661.80 L797.0 661.80 L797.6 661.80" fill="none" stroke="#0000ff" stroke-width="5.3" stroke-linecap="round" stroke-dasharray="0.01 31.49" stroke-dashoffset="-23.60"/>
<text transform="translate(183.30 53.05) scale(1 1.044)" font-size="38.00" text-anchor="end" fill="#000">30</text>
<text transform="translate(183.30 140.21) scale(1 1.044)" font-size="38.00" text-anchor="end" fill="#000">20</text>
<text transform="translate(183.30 227.37) scale(1 1.044)" font-size="38.00" text-anchor="end" fill="#000">10</text>
<text transform="translate(183.30 314.53) scale(1 1.044)" font-size="38.00" text-anchor="end" fill="#000">0</text>
<text transform="translate(183.30 401.69) scale(1 1.044)" font-size="38.00" text-anchor="end" fill="#000">-10</text>
<text transform="translate(183.30 488.85) scale(1 1.044)" font-size="38.00" text-anchor="end" fill="#000">-20</text>
<text transform="translate(183.30 567.85) scale(1 1.044)" font-size="38.00" text-anchor="end" fill="#000">5</text>
<text transform="translate(183.30 676.80) scale(1 1.044)" font-size="38.00" text-anchor="end" fill="#000">0</text>
<text transform="translate(183.30 785.75) scale(1 1.044)" font-size="38.00" text-anchor="end" fill="#000">-5</text>
<text transform="translate(183.30 894.70) scale(1 1.044)" font-size="38.00" text-anchor="end" fill="#000">-10</text>
<text transform="translate(183.30 1003.65) scale(1 1.044)" font-size="38.00" text-anchor="end" fill="#000">-15</text>
<text transform="translate(197.00 1031.90) scale(1 1.044)" font-size="38.00" text-anchor="middle" fill="#000">0</text>
<text transform="translate(397.20 1031.90) scale(1 1.044)" font-size="38.00" text-anchor="middle" fill="#000">2</text>
<text transform="translate(597.40 1031.90) scale(1 1.044)" font-size="38.00" text-anchor="middle" fill="#000">4</text>
<text transform="translate(797.60 1031.90) scale(1 1.044)" font-size="38.00" text-anchor="middle" fill="#000">6</text>
<text transform="translate(468.50 1088.20) scale(1 1.044)" font-size="48.60" text-anchor="start" fill="#000">O</text>
<path d="M490.2 1076.2L503.4 1087.9" stroke="#000" stroke-width="6.6" fill="none"/>
<text transform="translate(506.60 1063.30) scale(1 1.044)" font-size="34.02" text-anchor="start" fill="#000">2</text>
<text transform="translate(648.80 1088.20) scale(1 1.044)" font-size="48.60" text-anchor="start" fill="#000">(GeV</text>
<text transform="translate(762.60 1063.20) scale(1 1.044)" font-size="34.02" text-anchor="start" fill="#000">2</text>
<text transform="translate(781.50 1088.20) scale(1 1.044)" font-size="48.60" text-anchor="start" fill="#000">)</text>
<text transform="translate(67.20 420.60) rotate(-90) scale(1 1.044)" font-size="48.60" fill="#000">A</text>
<text transform="translate(84.20 386.10) rotate(-90) scale(1 1.044)" font-size="34.02" fill="#000">3/2</text>
<text transform="translate(67.20 312.60) rotate(-90) scale(1 1.044)" font-size="48.60" fill="#000">(10</text>
<text transform="translate(42.70 241.30) rotate(-90) scale(1 1.044)" font-size="34.02" fill="#000">-3</text>
<text transform="translate(67.20 211.10) rotate(-90) scale(1 1.044)" font-size="48.60" fill="#000">GeV</text>
<text transform="translate(42.70 113.70) rotate(-90) scale(1 1.044)" font-size="34.02" fill="#000">-1/2</text>
<text transform="translate(67.20 54.90) rotate(-90) scale(1 1.044)" font-size="48.60" fill="#000">)</text>
<text transform="translate(67.20 935.40) rotate(-90) scale(1 1.044)" font-size="48.60" fill="#000">C</text>
<text transform="translate(84.20 900.90) rotate(-90) scale(1 1.044)" font-size="34.02" fill="#000">1/2</text>
<text transform="translate(67.20 827.40) rotate(-90) scale(1 1.044)" font-size="48.60" fill="#000">(10</text>
<text transform="translate(42.70 756.10) rotate(-90) scale(1 1.044)" font-size="34.02" fill="#000">-3</text>
<text transform="translate(67.20 725.90) rotate(-90) scale(1 1.044)" font-size="48.60" fill="#000">GeV</text>
<text transform="translate(42.70 628.50) rotate(-90) scale(1 1.044)" font-size="34.02" fill="#000">-1/2</text>
<text transform="translate(67.20 569.70) rotate(-90) scale(1 1.044)" font-size="48.60" fill="#000">)</text>
<text transform="translate(297.15 291.80) scale(1 1.044)" font-size="38.00" text-anchor="start" fill="#000">P</text>
<text transform="translate(322.15 304.70) scale(1 1.044)" font-size="26.60" text-anchor="start" fill="#000">03</text>
<text transform="translate(351.15 291.80) scale(1 1.044)" font-size="38.00" text-anchor="start" fill="#000">(1890)</text>
<text transform="translate(396.85 161.60) scale(1 1.044)" font-size="38.00" text-anchor="start" fill="#0000ff">P</text>
<text transform="translate(421.85 174.50) scale(1 1.044)" font-size="26.60" text-anchor="start" fill="#0000ff">03</text>
<text transform="translate(427.75 147.60) scale(1 1.044)" font-size="26.60" text-anchor="start" fill="#0000ff">(3)</text>
<text transform="translate(297.15 396.40) scale(1 1.044)" font-size="38.00" text-anchor="start" fill="#b40000">P</text>
<text transform="translate(322.15 409.30) scale(1 1.044)" font-size="26.60" text-anchor="start" fill="#b40000">03</text>
<text transform="translate(328.05 382.40) scale(1 1.044)" font-size="26.60" text-anchor="start" fill="#b40000">(2)</text>
<text transform="translate(447.15 623.60) scale(1 1.044)" font-size="38.00" text-anchor="start" fill="#000">P</text>
<text transform="translate(472.15 636.50) scale(1 1.044)" font-size="26.60" text-anchor="start" fill="#000">03</text>
<text transform="translate(501.15 623.60) scale(1 1.044)" font-size="38.00" text-anchor="start" fill="#000">(1890)</text>
<text transform="translate(247.15 695.70) scale(1 1.044)" font-size="38.00" text-anchor="start" fill="#0000ff">P</text>
<text transform="translate(272.15 708.60) scale(1 1.044)" font-size="26.60" text-anchor="start" fill="#0000ff">03</text>
<text transform="translate(278.05 681.70) scale(1 1.044)" font-size="26.60" text-anchor="start" fill="#0000ff">(3)</text>
<text transform="translate(247.15 859.00) scale(1 1.044)" font-size="38.00" text-anchor="start" fill="#b40000">P</text>
<text transform="translate(272.15 871.90) scale(1 1.044)" font-size="26.60" text-anchor="start" fill="#b40000">03</text>
<text transform="translate(278.05 845.00) scale(1 1.044)" font-size="26.60" text-anchor="start" fill="#b40000">(2)</text>
</svg>
</body></html>
